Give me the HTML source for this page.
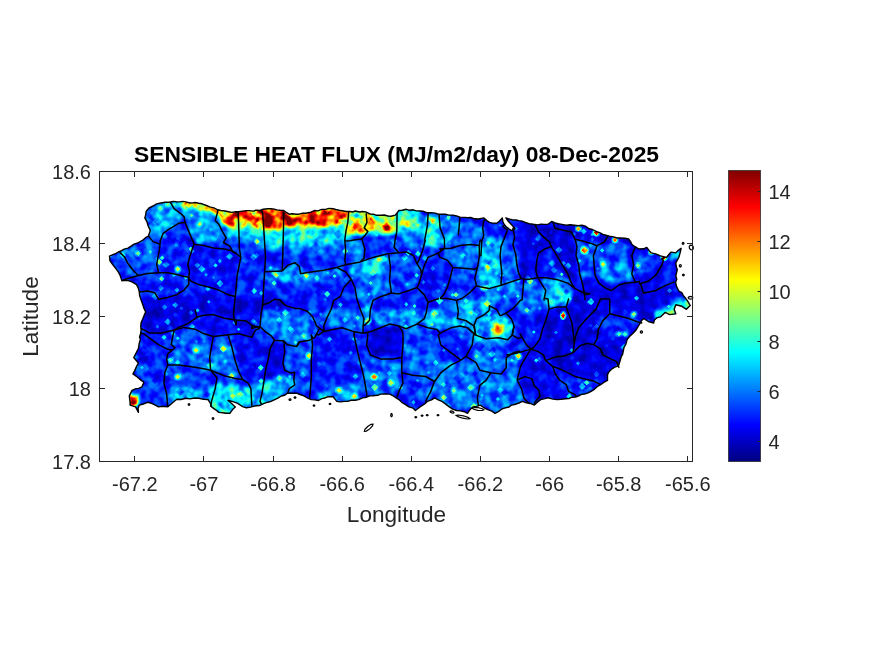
<!DOCTYPE html>
<html><head><meta charset="utf-8"><title>Sensible Heat Flux</title>
<style>html,body{margin:0;padding:0;background:#fff}body{width:875px;height:656px;overflow:hidden;font-family:"Liberation Sans",sans-serif}svg text{font-family:"Liberation Sans",sans-serif}</style>
</head><body>
<svg width="875" height="656" viewBox="0 0 875 656" style="display:block">
<defs>
<filter id="jet" x="0" y="0" width="875" height="656" filterUnits="userSpaceOnUse" color-interpolation-filters="sRGB">
<feGaussianBlur in="SourceGraphic" stdDeviation="0.7" result="b"/>
<feTurbulence type="fractalNoise" baseFrequency="0.11" numOctaves="2" seed="3" result="n"/>
<feColorMatrix in="n" type="matrix" values="2.2 0 0 0 -0.6000000000000001  2.2 0 0 0 -0.6000000000000001  2.2 0 0 0 -0.6000000000000001  0 0 0 0 1" result="ng"/>
<feComposite in="b" in2="ng" operator="arithmetic" k1="0.55" k2="0.725" k3="0.05" k4="-0.025" result="s"/>
<feComponentTransfer in="s">
<feFuncR type="table" tableValues="0.000 0.000 0.000 0.000 0.000 0.000 0.000 0.000 0.000 0.000 0.000 0.000 0.000 0.000 0.000 0.000 0.000 0.000 0.000 0.000 0.000 0.000 0.000 0.000 0.024 0.087 0.151 0.214 0.278 0.341 0.405 0.468 0.532 0.595 0.659 0.722 0.786 0.849 0.913 0.976 1.000 1.000 1.000 1.000 1.000 1.000 1.000 1.000 1.000 1.000 1.000 1.000 1.000 1.000 1.000 1.000 0.944 0.881 0.817 0.754 0.690 0.627 0.563 0.500"/>
<feFuncG type="table" tableValues="0.000 0.000 0.000 0.000 0.000 0.000 0.000 0.000 0.008 0.071 0.135 0.198 0.262 0.325 0.389 0.452 0.516 0.579 0.643 0.706 0.770 0.833 0.897 0.960 1.000 1.000 1.000 1.000 1.000 1.000 1.000 1.000 1.000 1.000 1.000 1.000 1.000 1.000 1.000 1.000 0.960 0.897 0.833 0.770 0.706 0.643 0.579 0.516 0.452 0.389 0.325 0.262 0.198 0.135 0.071 0.008 0.000 0.000 0.000 0.000 0.000 0.000 0.000 0.000"/>
<feFuncB type="table" tableValues="0.500 0.563 0.627 0.690 0.754 0.817 0.881 0.944 1.000 1.000 1.000 1.000 1.000 1.000 1.000 1.000 1.000 1.000 1.000 1.000 1.000 1.000 1.000 1.000 0.976 0.913 0.849 0.786 0.722 0.659 0.595 0.532 0.468 0.405 0.341 0.278 0.214 0.151 0.087 0.024 0.000 0.000 0.000 0.000 0.000 0.000 0.000 0.000 0.000 0.000 0.000 0.000 0.000 0.000 0.000 0.000 0.000 0.000 0.000 0.000 0.000 0.000 0.000 0.000"/>
<feFuncA type="linear" slope="0" intercept="1"/>
</feComponentTransfer>
</filter>
<filter id="bl" x="0" y="0" width="875" height="656" filterUnits="userSpaceOnUse" color-interpolation-filters="sRGB"><feGaussianBlur stdDeviation="2.0"/></filter>
<clipPath id="isl"><polygon points="109.5,256.2 112.4,254.9 116.0,253.3 118.3,252.0 121.5,250.7 124.2,249.1 128.0,248.1 131.0,246.2 134.1,244.1 137.7,243.0 142.0,240.7 145.5,237.7 148.4,236.1 150.3,230.6 147.9,225.2 147.1,222.2 144.8,217.9 145.7,214.9 146.1,211.5 149.0,208.0 153.0,206.0 156.1,204.2 158.7,203.4 162.2,202.7 165.1,202.2 169.4,202.3 173.1,201.4 176.3,201.7 179.5,201.9 182.6,201.4 185.9,201.9 189.8,203.0 192.8,202.9 195.2,202.5 198.7,203.2 202.1,203.8 206.4,205.5 209.7,206.9 213.9,207.9 217.7,209.8 220.7,210.5 223.6,210.7 228.6,211.7 231.6,212.4 236.0,211.8 238.3,211.7 242.6,211.1 246.5,210.6 248.9,210.6 253.7,211.1 255.9,210.2 260.0,210.5 263.1,209.2 267.8,208.8 271.0,208.7 274.3,209.1 276.9,209.9 280.0,210.3 283.8,210.5 285.9,212.2 289.2,214.2 292.1,213.7 296.5,214.3 298.8,214.2 302.0,213.3 305.7,213.3 310.8,212.1 314.8,210.5 317.9,210.9 321.7,209.4 326.2,209.2 329.1,208.4 333.1,208.7 335.7,209.5 339.1,210.3 342.5,210.7 345.9,211.5 349.9,211.5 352.6,212.0 355.3,211.0 359.7,212.0 362.4,211.5 365.7,211.9 370.0,214.0 373.3,214.2 376.5,215.3 381.2,215.3 384.2,215.0 388.0,216.0 391.0,216.2 395.3,215.1 398.9,210.5 402.2,210.2 406.2,209.3 409.3,210.2 413.2,209.8 416.1,210.9 420.0,211.0 423.0,211.2 427.4,212.8 431.2,212.6 435.3,213.1 438.3,214.2 441.2,214.2 445.5,214.3 448.8,215.1 453.0,215.1 456.6,216.0 460.0,217.1 464.6,217.4 467.8,217.8 470.6,217.5 474.8,218.8 478.7,219.0 484.0,217.9 487.1,220.8 489.5,222.4 492.4,223.1 496.8,223.3 499.5,220.9 502.3,217.9 502.9,221.8 504.1,224.3 505.9,226.5 509.3,229.1 511.4,230.6 515.0,228.8 513.1,226.4 510.9,224.0 508.0,220.9 505.9,217.9 509.7,219.1 512.2,219.7 516.0,220.0 518.7,220.6 522.5,221.3 526.1,222.6 529.0,223.6 533.3,224.3 537.7,224.9 541.0,224.1 544.7,224.4 548.0,224.3 551.6,221.5 555.2,222.9 558.3,223.7 561.9,224.4 566.3,225.2 570.2,224.8 574.4,225.2 578.2,225.8 582.0,225.2 585.3,226.1 589.0,228.7 592.5,229.5 596.6,231.6 600.4,233.0 602.9,234.4 605.9,235.2 609.4,236.1 612.6,236.6 617.1,238.0 620.3,238.0 625.0,238.3 628.6,238.9 630.4,241.4 632.0,244.5 635.0,246.7 639.0,249.0 643.4,248.8 646.8,247.5 649.4,250.9 651.4,252.9 655.6,253.9 660.5,255.9 666.6,257.5 668.8,254.5 671.2,252.1 675.8,252.9 678.0,250.5 681.1,248.3 680.1,252.9 678.8,257.5 675.8,262.8 676.3,266.8 677.3,269.7 675.8,275.8 676.8,279.3 675.6,282.2 676.5,286.4 678.8,291.0 681.7,292.6 683.4,295.6 686.0,298.8 688.0,301.7 690.2,305.5 686.4,309.3 681.9,306.3 675.8,304.7 674.2,309.3 675.8,313.9 669.7,314.6 665.1,312.4 662.5,315.1 660.5,316.9 656.7,317.9 654.4,320.0 653.6,323.0 648.3,321.5 643.7,318.5 641.4,320.8 639.2,324.6 636.1,330.0 633.3,332.9 629.5,336.6 627.1,339.6 626.0,343.8 624.0,347.5 623.3,350.8 622.6,354.3 621.2,356.7 620.1,360.8 618.5,365.8 614.8,367.2 611.2,369.5 608.6,372.2 607.5,375.0 607.5,380.4 604.2,382.2 600.2,385.0 596.8,386.9 594.4,389.3 591.1,391.4 588.1,392.9 584.5,394.1 582.1,394.2 578.3,396.0 575.7,397.0 571.3,397.3 568.9,398.6 565.5,398.7 561.1,399.3 557.1,399.6 553.1,399.1 548.0,397.8 545.0,398.6 540.7,399.6 537.7,401.9 534.3,405.1 529.7,403.2 526.4,402.8 522.4,401.4 518.9,403.0 514.6,404.5 511.4,405.1 509.1,407.0 505.4,407.9 502.3,408.7 498.4,411.6 495.0,413.3 491.8,411.2 487.6,409.6 483.3,407.3 480.3,405.1 476.7,406.4 473.0,406.9 470.2,409.4 467.5,413.3 464.3,411.7 460.7,410.9 456.6,410.5 452.7,409.1 449.3,406.9 445.1,403.6 441.9,401.4 438.3,399.9 434.6,397.8 431.5,399.9 427.3,401.4 424.3,404.2 420.0,407.0 415.4,410.5 413.0,408.1 408.9,406.9 406.3,405.1 402.3,402.7 398.9,399.6 396.1,397.8 393.3,396.0 389.8,394.1 385.0,393.9 380.7,394.1 377.6,395.3 372.9,395.8 369.7,395.9 366.7,397.2 362.5,397.9 358.7,399.6 355.1,400.2 351.6,400.1 347.8,401.4 344.8,401.4 340.3,401.9 336.8,401.4 333.1,396.8 327.6,396.8 324.7,398.0 321.8,398.6 318.5,400.5 314.9,399.9 311.2,399.6 308.2,398.4 303.9,395.9 299.9,394.5 296.6,393.2 291.4,393.1 287.4,393.2 284.8,395.3 281.3,396.0 278.3,397.8 274.2,399.8 271.0,401.4 268.0,402.2 264.1,403.4 260.0,405.5 256.1,405.7 253.4,406.4 249.5,407.4 246.3,407.8 242.6,406.6 239.6,404.7 237.1,403.2 232.2,401.4 228.0,400.5 230.5,402.5 232.7,404.6 235.3,406.9 232.6,409.6 229.8,413.3 225.7,413.2 222.7,412.7 218.8,412.4 215.7,409.8 211.5,406.9 210.2,402.8 207.9,399.5 203.7,399.4 198.7,398.3 195.0,398.0 189.9,398.9 185.9,398.3 180.9,399.5 176.8,399.3 174.3,401.3 170.3,404.7 167.6,406.9 162.7,406.3 158.5,406.9 155.3,405.2 151.6,403.3 147.5,402.3 143.3,404.0 139.3,405.1 138.1,408.3 138.4,412.4 135.6,406.9 130.2,405.1 130.0,401.1 129.3,395.9 132.0,390.4 136.0,388.6 138.7,388.4 142.0,386.8 143.9,382.2 141.2,380.4 137.9,377.5 135.1,375.4 132.9,374.0 134.8,370.4 136.7,366.1 138.4,363.0 135.6,359.8 133.8,357.5 136.6,352.0 138.5,348.2 139.3,342.9 140.4,339.1 139.5,337.2 140.6,333.7 141.1,330.1 140.8,326.4 141.1,322.8 142.7,319.1 144.3,314.9 145.7,312.0 143.9,308.3 142.8,304.7 141.1,300.1 139.7,295.9 139.3,291.9 138.3,288.1 136.6,284.6 132.4,282.2 129.2,280.9 125.6,280.2 121.9,280.9 120.1,275.4 118.4,272.2 115.5,268.1 113.1,265.0 110.0,260.8"/></clipPath>
<linearGradient id="cbg" x1="0" y1="0" x2="0" y2="1"><stop offset="0.0000" stop-color="rgb(128,0,0)"/><stop offset="0.0312" stop-color="rgb(159,0,0)"/><stop offset="0.0625" stop-color="rgb(191,0,0)"/><stop offset="0.0938" stop-color="rgb(223,0,0)"/><stop offset="0.1250" stop-color="rgb(255,0,0)"/><stop offset="0.1562" stop-color="rgb(255,32,0)"/><stop offset="0.1875" stop-color="rgb(255,64,0)"/><stop offset="0.2188" stop-color="rgb(255,96,0)"/><stop offset="0.2500" stop-color="rgb(255,128,0)"/><stop offset="0.2812" stop-color="rgb(255,159,0)"/><stop offset="0.3125" stop-color="rgb(255,191,0)"/><stop offset="0.3438" stop-color="rgb(255,223,0)"/><stop offset="0.3750" stop-color="rgb(255,255,0)"/><stop offset="0.4062" stop-color="rgb(223,255,32)"/><stop offset="0.4375" stop-color="rgb(191,255,64)"/><stop offset="0.4688" stop-color="rgb(159,255,96)"/><stop offset="0.5000" stop-color="rgb(128,255,128)"/><stop offset="0.5312" stop-color="rgb(96,255,159)"/><stop offset="0.5625" stop-color="rgb(64,255,191)"/><stop offset="0.5938" stop-color="rgb(32,255,223)"/><stop offset="0.6250" stop-color="rgb(0,255,255)"/><stop offset="0.6562" stop-color="rgb(0,223,255)"/><stop offset="0.6875" stop-color="rgb(0,191,255)"/><stop offset="0.7188" stop-color="rgb(0,159,255)"/><stop offset="0.7500" stop-color="rgb(0,128,255)"/><stop offset="0.7812" stop-color="rgb(0,96,255)"/><stop offset="0.8125" stop-color="rgb(0,64,255)"/><stop offset="0.8438" stop-color="rgb(0,32,255)"/><stop offset="0.8750" stop-color="rgb(0,0,255)"/><stop offset="0.9062" stop-color="rgb(0,0,223)"/><stop offset="0.9375" stop-color="rgb(0,0,191)"/><stop offset="0.9688" stop-color="rgb(0,0,159)"/><stop offset="1.0000" stop-color="rgb(0,0,128)"/></linearGradient>
</defs>
<rect width="875" height="656" fill="#fff"/>
<g clip-path="url(#isl)"><g filter="url(#jet)">
<rect x="0" y="0" width="875" height="656" fill="rgb(39,39,39)"/>
<g filter="url(#bl)">
<rect x="0" y="0" width="875" height="656" fill="rgb(39,39,39)"/>
<polygon points="520.0,215.0 700.0,215.0 700.0,410.0 560.0,410.0 540.0,330.0 520.0,300.0" fill="rgb(24,24,24)"/>
<polygon points="136.6,297.4 260.0,297.4 260.0,315.0 142.1,315.0" fill="rgb(24,24,24)"/>
<polygon points="191.4,248.0 235.3,249.9 235.3,290.1 191.4,282.8" fill="rgb(33,33,33)"/>
<polygon points="111.0,253.5 149.4,238.9 158.5,244.4 156.7,271.8 136.6,275.5 121.9,275.5" fill="rgb(53,53,53)"/>
<polygon points="143.9,209.6 173.1,201.4 182.3,216.9 180.5,222.4 160.3,237.1 149.4,235.2 143.9,218.8" fill="rgb(75,75,75)"/>
<polygon points="182.3,206.0 218.9,213.3 226.2,238.9 195.1,244.4 184.1,218.8" fill="rgb(72,72,72)"/>
<polygon points="173.1,200.5 218.9,207.8 218.9,214.2 184.1,206.9" fill="rgb(160,160,160)"/>
<polygon points="218.9,209.6 260.0,208.7 260.0,222.4 244.5,226.1 224.3,222.4" fill="rgb(215,215,215)"/>
<polygon points="224.3,222.4 244.5,226.1 260.0,222.4 260.0,242.5 228.0,242.5" fill="rgb(79,79,79)"/>
<polygon points="260.0,208.7 283.8,209.6 283.8,229.7 271.0,228.8 260.0,222.4" fill="rgb(241,241,241)"/>
<polygon points="283.8,212.4 345.9,208.7 345.9,224.3 324.0,226.1 305.7,222.4 285.6,229.7" fill="rgb(193,193,193)"/>
<polygon points="345.9,209.6 395.3,213.3 395.3,231.6 369.7,234.3 347.8,235.2" fill="rgb(134,134,134)"/>
<polygon points="399.0,209.6 420.0,209.6 420.0,227.9 399.0,231.6" fill="rgb(101,101,101)"/>
<polygon points="283.8,228.8 305.7,222.4 324.0,226.1 345.9,224.3 347.8,235.2 345.9,242.5 283.8,242.5" fill="rgb(96,96,96)"/>
<polygon points="260.0,222.4 271.0,228.8 283.8,229.7 283.8,249.9 260.0,249.9" fill="rgb(75,75,75)"/>
<polygon points="283.8,242.5 345.9,242.5 345.9,255.3 283.8,255.3" fill="rgb(57,57,57)"/>
<polygon points="265.5,268.1 296.6,264.5 303.9,273.6 340.5,268.1 340.5,280.9 287.4,282.8 265.5,280.9" fill="rgb(70,70,70)"/>
<polygon points="347.8,240.7 362.4,240.7 364.2,259.0 347.8,262.7" fill="rgb(64,64,64)"/>
<polygon points="345.9,264.5 388.0,255.3 391.7,271.8 369.7,280.9 351.4,275.5" fill="rgb(83,83,83)"/>
<polygon points="369.7,234.3 395.3,231.6 395.3,251.7 367.9,255.3" fill="rgb(48,48,48)"/>
<polygon points="399.0,231.6 420.0,227.9 420.0,249.9 399.0,251.7" fill="rgb(61,61,61)"/>
<polygon points="391.7,257.2 420.0,257.2 420.0,286.4 395.3,293.7" fill="rgb(50,50,50)"/>
<polygon points="260.0,297.4 287.4,301.1 305.7,315.0 260.0,315.0" fill="rgb(22,22,22)"/>
<polygon points="358.7,282.8 388.0,271.8 391.7,293.7 373.4,297.4 369.7,315.0 356.9,315.0" fill="rgb(61,61,61)"/>
<polygon points="260.0,249.9 283.8,249.9 281.9,268.1 260.0,268.1" fill="rgb(35,35,35)"/>
<polygon points="420.0,211.5 427.3,215.1 423.7,248.0 420.0,248.0" fill="rgb(61,61,61)"/>
<polygon points="427.3,215.1 440.1,216.9 443.8,246.2 423.7,248.0 425.5,231.6" fill="rgb(101,101,101)"/>
<polygon points="440.1,216.9 458.4,218.8 458.4,244.4 443.8,248.0" fill="rgb(68,68,68)"/>
<polygon points="458.4,222.4 489.5,222.4 482.2,237.1 480.3,248.0 459.3,244.4" fill="rgb(57,57,57)"/>
<polygon points="440.1,248.0 480.3,246.2 478.5,268.1 452.9,268.1 443.8,257.2" fill="rgb(61,61,61)"/>
<polygon points="425.5,257.2 443.8,257.2 451.1,268.1 447.4,293.7 425.5,299.2 420.0,282.8 420.0,268.1" fill="rgb(35,35,35)"/>
<polygon points="480.3,237.1 502.3,237.1 500.5,284.6 480.3,286.4 476.7,268.1" fill="rgb(81,81,81)"/>
<polygon points="502.3,249.9 516.9,249.9 520.6,279.1 502.3,286.4" fill="rgb(61,61,61)"/>
<polygon points="537.0,251.7 551.7,249.9 566.3,275.5 537.0,277.3" fill="rgb(35,35,35)"/>
<polygon points="551.7,242.5 580.0,246.2 580.0,282.8 566.3,275.5" fill="rgb(22,22,22)"/>
<polygon points="537.0,277.3 571.8,280.9 566.3,304.7 548.0,308.4 544.3,290.1" fill="rgb(66,66,66)"/>
<polygon points="480.3,286.4 522.4,280.9 526.1,293.7 518.7,304.7 500.5,304.7 489.5,308.4 484.0,291.9" fill="rgb(61,61,61)"/>
<polygon points="452.9,268.1 476.7,268.1 478.5,286.4 467.5,297.4 447.4,293.7" fill="rgb(46,46,46)"/>
<polygon points="526.1,280.9 537.0,277.3 548.0,308.4 522.4,315.0 518.7,304.7" fill="rgb(57,57,57)"/>
<polygon points="576.5,240.7 592.9,238.9 594.7,275.5 578.3,282.8" fill="rgb(57,57,57)"/>
<polygon points="594.7,240.7 629.5,242.5 633.1,275.5 611.2,284.6 596.6,280.9" fill="rgb(50,50,50)"/>
<polygon points="605.7,264.5 629.5,262.7 631.3,277.3 611.2,282.8" fill="rgb(68,68,68)"/>
<polygon points="633.1,251.7 662.4,257.2 651.4,273.6 633.1,277.3" fill="rgb(46,46,46)"/>
<polygon points="662.4,257.2 680.7,249.9 677.0,271.8 678.9,293.7 651.4,282.8 655.1,271.8" fill="rgb(35,35,35)"/>
<polygon points="669.7,249.9 682.5,247.1 680.7,257.2 671.5,260.8" fill="rgb(88,88,88)"/>
<polygon points="673.4,299.2 691.7,299.2 691.7,312.0 669.7,312.0" fill="rgb(105,105,105)"/>
<polygon points="142.1,310.0 195.1,310.0 187.8,324.6 173.1,330.1 149.4,333.8 141.1,326.5" fill="rgb(24,24,24)"/>
<polygon points="189.6,324.6 213.4,315.5 260.0,326.5 253.6,335.6 213.4,335.6" fill="rgb(31,31,31)"/>
<polygon points="173.1,330.1 211.5,337.4 209.7,370.3 167.7,364.9" fill="rgb(57,57,57)"/>
<polygon points="211.5,337.4 231.7,335.6 240.8,379.5 209.7,372.2" fill="rgb(61,61,61)"/>
<polygon points="235.3,335.6 260.0,337.4 260.0,379.5 244.5,379.5" fill="rgb(31,31,31)"/>
<polygon points="132.9,364.9 165.8,364.9 165.8,406.9 131.1,405.1" fill="rgb(44,44,44)"/>
<polygon points="165.8,366.7 209.7,370.3 217.0,377.7 213.4,383.1 167.7,383.1" fill="rgb(50,50,50)"/>
<polygon points="167.7,386.8 213.4,386.8 213.4,401.4 167.7,408.7" fill="rgb(72,72,72)"/>
<polygon points="213.4,383.1 249.9,386.8 251.8,405.1 231.7,416.1 213.4,414.2 209.7,401.4" fill="rgb(92,92,92)"/>
<polygon points="251.8,383.1 260.0,383.1 260.0,406.9 251.8,406.9" fill="rgb(83,83,83)"/>
<polygon points="128.3,394.1 139.9,395.6 136.2,406.0 128.3,406.0" fill="rgb(232,232,232)"/>
<polygon points="260.0,310.0 314.9,310.0 318.5,326.5 311.2,341.1 287.4,344.7 271.0,339.3 260.0,328.3" fill="rgb(61,61,61)"/>
<polygon points="267.3,342.9 283.8,341.1 283.8,370.3 267.3,383.1 263.7,364.9" fill="rgb(24,24,24)"/>
<polygon points="260.0,383.1 283.8,375.8 294.7,379.5 294.7,386.8 287.4,395.9 260.0,406.9" fill="rgb(83,83,83)"/>
<polygon points="283.8,344.7 313.0,342.9 311.2,392.3 296.6,390.5 294.7,370.3 283.8,370.3" fill="rgb(50,50,50)"/>
<polygon points="320.3,328.3 347.8,328.3 347.8,346.6 320.3,346.6" fill="rgb(31,31,31)"/>
<polygon points="324.0,310.0 369.7,310.0 369.7,328.3 342.3,328.3 324.0,324.6" fill="rgb(61,61,61)"/>
<polygon points="369.7,326.5 400.8,326.5 400.8,357.5 369.7,357.5" fill="rgb(22,22,22)"/>
<polygon points="362.4,357.5 400.8,359.4 400.8,392.3 364.2,395.9" fill="rgb(57,57,57)"/>
<polygon points="402.6,328.3 420.0,326.5 420.0,372.2 402.6,372.2" fill="rgb(57,57,57)"/>
<polygon points="402.6,374.0 420.0,375.8 420.0,408.7 406.3,403.3" fill="rgb(46,46,46)"/>
<polygon points="373.4,310.0 420.0,310.0 420.0,324.6 400.8,326.5 373.4,326.5" fill="rgb(66,66,66)"/>
<polygon points="314.9,394.1 362.4,383.1 362.4,399.6 336.8,403.3 320.3,401.4" fill="rgb(72,72,72)"/>
<polygon points="420.0,310.0 456.6,310.0 458.4,321.0 438.3,331.9 420.0,324.6" fill="rgb(72,72,72)"/>
<polygon points="440.1,330.1 469.4,324.6 473.0,346.6 465.7,357.5 452.9,363.0 438.3,346.6" fill="rgb(35,35,35)"/>
<polygon points="420.0,328.3 438.3,333.8 438.3,346.6 452.9,363.0 438.3,375.8 420.0,375.8" fill="rgb(50,50,50)"/>
<polygon points="474.9,317.3 500.5,315.5 513.3,322.8 511.4,335.6 500.5,341.1 480.3,337.4" fill="rgb(96,96,96)"/>
<polygon points="473.0,341.1 505.9,341.1 505.9,370.3 478.5,370.3" fill="rgb(61,61,61)"/>
<polygon points="434.6,363.0 467.5,357.5 478.5,370.3 489.5,372.2 478.5,383.1 478.5,405.1 452.9,408.7 431.0,395.9" fill="rgb(61,61,61)"/>
<polygon points="478.5,383.1 489.5,372.2 505.9,374.0 505.9,353.9 518.7,352.1 529.7,346.6 518.7,379.5 526.1,401.4 496.8,414.2 478.5,405.1" fill="rgb(61,61,61)"/>
<polygon points="548.0,310.0 580.0,310.0 580.0,346.6 551.7,357.5 533.4,348.4 544.3,328.3" fill="rgb(22,22,22)"/>
<polygon points="518.7,352.1 533.4,348.4 551.7,359.4 566.3,379.5 580.0,383.1 580.0,395.9 540.7,395.9 526.1,401.4 518.7,379.5" fill="rgb(29,29,29)"/>
<polygon points="551.7,359.4 580.0,346.6 580.0,383.1 566.3,379.5" fill="rgb(22,22,22)"/>
<polygon points="420.0,375.8 434.6,364.9 431.0,395.9 420.0,406.9" fill="rgb(57,57,57)"/>
<polygon points="492.2,324.6 505.0,321.0 507.8,328.3 498.6,335.6 492.2,332.9" fill="rgb(138,138,138)"/>
<polygon points="596.6,303.7 633.1,311.0 640.5,323.8 624.0,342.1 602.1,345.7 596.6,321.9" fill="rgb(39,39,39)"/>
<polygon points="655.1,311.0 691.7,300.0 690.7,308.2 673.4,315.5 655.1,319.2" fill="rgb(105,105,105)"/>
<polygon points="560.0,376.8 607.5,376.8 591.1,391.4 560.0,399.7" fill="rgb(46,46,46)"/>
<polygon points="220.0,207.0 347.0,207.0 347.0,226.0 335.0,225.0 322.0,228.0 300.0,225.0 285.0,230.0 262.0,229.0 243.0,226.0 232.0,227.0 221.0,223.0" fill="rgb(197,197,197)"/>
<polygon points="262.0,208.0 285.0,208.0 285.0,228.0 264.0,227.0" fill="rgb(248,248,248)"/>
<polygon points="237.0,209.0 258.0,209.0 258.0,222.0 240.0,221.0" fill="rgb(237,237,237)"/>
<polygon points="300.0,209.0 345.0,209.0 345.0,217.0 300.0,218.0" fill="rgb(215,215,215)"/>
<polygon points="286.0,212.0 300.0,212.0 300.0,224.0 288.0,226.0" fill="rgb(219,219,219)"/>
<polygon points="347.0,208.0 398.0,211.0 398.0,233.0 347.0,234.0" fill="rgb(134,134,134)"/>
<polygon points="355.0,220.0 361.0,220.0 361.0,232.0 355.0,232.0" fill="rgb(206,206,206)"/>
<polygon points="369.0,222.0 379.0,221.0 380.0,228.0 370.0,229.0" fill="rgb(210,210,210)"/>
<polygon points="384.0,223.0 391.0,222.0 392.0,230.0 386.0,230.0" fill="rgb(210,210,210)"/>
<polygon points="400.0,222.0 411.0,222.0 411.0,226.0 400.0,226.0" fill="rgb(193,193,193)"/>
<polygon points="173.0,200.0 200.0,201.0 221.0,208.0 221.0,214.0 200.0,209.0 180.0,206.0" fill="rgb(182,182,182)"/>
<polygon points="538.0,278.0 568.0,279.0 573.0,293.0 569.0,303.0 556.0,308.0 545.0,306.0 542.0,290.0" fill="rgb(83,83,83)"/>
<polygon points="600.0,262.0 630.0,262.0 632.0,280.0 610.0,286.0 598.0,276.0" fill="rgb(66,66,66)"/>
<polygon points="264.0,228.0 346.0,228.0 346.0,243.0 300.0,246.0 264.0,244.0" fill="rgb(96,96,96)"/>
<polygon points="452.0,300.0 494.0,298.0 494.0,340.0 470.0,345.0 452.0,330.0" fill="rgb(75,75,75)"/>
<polygon points="495.0,329.0 500.0,325.5 505.5,322.0 505.5,325.0 501.0,330.0 496.0,331.5" fill="rgb(210,210,210)"/>
</g>
<ellipse cx="168.6" cy="205.1" rx="3.7" ry="3.7" fill="rgb(149,149,149)" fill-opacity="0.3"/>
<path d="M168.6 202.6L171.1 205.1L168.6 207.6L166.1 205.1z" fill="rgb(149,149,149)"/>
<ellipse cx="199.7" cy="224.3" rx="3.2" ry="3.2" fill="rgb(138,138,138)" fill-opacity="0.3"/>
<path d="M199.7 222.3L201.7 224.3L199.7 226.3L197.7 224.3z" fill="rgb(138,138,138)"/>
<ellipse cx="138.4" cy="253.5" rx="3.7" ry="3.7" fill="rgb(138,138,138)" fill-opacity="0.3"/>
<path d="M138.4 251.0L140.9 253.5L138.4 256.0L135.9 253.5z" fill="rgb(138,138,138)"/>
<ellipse cx="177.7" cy="269.1" rx="3.7" ry="3.7" fill="rgb(127,127,127)" fill-opacity="0.3"/>
<path d="M177.7 266.6L180.2 269.1L177.7 271.6L175.2 269.1z" fill="rgb(127,127,127)"/>
<ellipse cx="175.9" cy="245.3" rx="3.7" ry="3.7" fill="rgb(105,105,105)" fill-opacity="0.3"/>
<path d="M175.9 242.8L178.4 245.3L175.9 247.8L173.4 245.3z" fill="rgb(105,105,105)"/>
<ellipse cx="355.1" cy="227.0" rx="4.2" ry="4.2" fill="rgb(215,215,215)" fill-opacity="0.3"/>
<path d="M355.1 224.0L358.1 227.0L355.1 230.0L352.1 227.0z" fill="rgb(215,215,215)"/>
<ellipse cx="377.0" cy="224.3" rx="4.2" ry="4.2" fill="rgb(215,215,215)" fill-opacity="0.3"/>
<path d="M377.0 221.3L380.0 224.3L377.0 227.3L374.0 224.3z" fill="rgb(215,215,215)"/>
<ellipse cx="386.2" cy="226.1" rx="4.7" ry="4.7" fill="rgb(215,215,215)" fill-opacity="0.3"/>
<path d="M386.2 222.6L389.7 226.1L386.2 229.6L382.7 226.1z" fill="rgb(215,215,215)"/>
<ellipse cx="406.3" cy="224.3" rx="3.7" ry="3.7" fill="rgb(182,182,182)" fill-opacity="0.3"/>
<path d="M406.3 221.8L408.8 224.3L406.3 226.8L403.8 224.3z" fill="rgb(182,182,182)"/>
<ellipse cx="309.4" cy="237.1" rx="3.7" ry="3.7" fill="rgb(138,138,138)" fill-opacity="0.3"/>
<path d="M309.4 234.6L311.9 237.1L309.4 239.6L306.9 237.1z" fill="rgb(138,138,138)"/>
<ellipse cx="378.9" cy="259.0" rx="3.2" ry="3.2" fill="rgb(127,127,127)" fill-opacity="0.3"/>
<path d="M378.9 257.0L380.9 259.0L378.9 261.0L376.9 259.0z" fill="rgb(127,127,127)"/>
<ellipse cx="432.8" cy="220.6" rx="3.7" ry="3.7" fill="rgb(171,171,171)" fill-opacity="0.3"/>
<path d="M432.8 218.1L435.3 220.6L432.8 223.1L430.3 220.6z" fill="rgb(171,171,171)"/>
<ellipse cx="463.0" cy="255.3" rx="3.7" ry="3.7" fill="rgb(127,127,127)" fill-opacity="0.3"/>
<path d="M463.0 252.8L465.5 255.3L463.0 257.8L460.5 255.3z" fill="rgb(127,127,127)"/>
<ellipse cx="487.7" cy="268.1" rx="4.2" ry="4.2" fill="rgb(127,127,127)" fill-opacity="0.3"/>
<path d="M487.7 265.1L490.7 268.1L487.7 271.1L484.7 268.1z" fill="rgb(127,127,127)"/>
<ellipse cx="484.0" cy="288.3" rx="3.7" ry="3.7" fill="rgb(138,138,138)" fill-opacity="0.3"/>
<path d="M484.0 285.8L486.5 288.3L484.0 290.8L481.5 288.3z" fill="rgb(138,138,138)"/>
<ellipse cx="584.7" cy="250.2" rx="4.6" ry="4.6" fill="rgb(215,215,215)" fill-opacity="0.3"/>
<path d="M584.7 246.79999999999998L588.1 250.2L584.7 253.6L581.3000000000001 250.2z" fill="rgb(215,215,215)"/>
<ellipse cx="578.3" cy="228.8" rx="3.7" ry="3.7" fill="rgb(171,171,171)" fill-opacity="0.3"/>
<path d="M578.3 226.3L580.8 228.8L578.3 231.3L575.8 228.8z" fill="rgb(171,171,171)"/>
<ellipse cx="596.6" cy="232.5" rx="4.2" ry="4.2" fill="rgb(182,182,182)" fill-opacity="0.3"/>
<path d="M596.6 229.5L599.6 232.5L596.6 235.5L593.6 232.5z" fill="rgb(182,182,182)"/>
<ellipse cx="614.9" cy="239.8" rx="3.7" ry="3.7" fill="rgb(160,160,160)" fill-opacity="0.3"/>
<path d="M614.9 237.3L617.4 239.8L614.9 242.3L612.4 239.8z" fill="rgb(160,160,160)"/>
<ellipse cx="664.2" cy="256.8" rx="4.2" ry="4.2" fill="rgb(182,182,182)" fill-opacity="0.3"/>
<path d="M664.2 253.8L667.2 256.8L664.2 259.8L661.2 256.8z" fill="rgb(182,182,182)"/>
<ellipse cx="651.4" cy="252.1" rx="3.7" ry="3.7" fill="rgb(160,160,160)" fill-opacity="0.3"/>
<path d="M651.4 249.6L653.9 252.1L651.4 254.6L648.9 252.1z" fill="rgb(160,160,160)"/>
<ellipse cx="637.7" cy="265.4" rx="3.7" ry="3.7" fill="rgb(127,127,127)" fill-opacity="0.3"/>
<path d="M637.7 262.9L640.2 265.4L637.7 267.9L635.2 265.4z" fill="rgb(127,127,127)"/>
<ellipse cx="603.0" cy="264.5" rx="3.7" ry="3.7" fill="rgb(116,116,116)" fill-opacity="0.3"/>
<path d="M603.0 262.0L605.5 264.5L603.0 267.0L600.5 264.5z" fill="rgb(116,116,116)"/>
<ellipse cx="240.8" cy="394.1" rx="4.2" ry="4.2" fill="rgb(149,149,149)" fill-opacity="0.3"/>
<path d="M240.8 391.1L243.8 394.1L240.8 397.1L237.8 394.1z" fill="rgb(149,149,149)"/>
<ellipse cx="170.4" cy="359.7" rx="3.7" ry="3.7" fill="rgb(149,149,149)" fill-opacity="0.3"/>
<path d="M170.4 357.2L172.9 359.7L170.4 362.2L167.9 359.7z" fill="rgb(149,149,149)"/>
<ellipse cx="196.0" cy="350.6" rx="3.7" ry="3.7" fill="rgb(127,127,127)" fill-opacity="0.3"/>
<path d="M196.0 348.1L198.5 350.6L196.0 353.1L193.5 350.6z" fill="rgb(127,127,127)"/>
<ellipse cx="177.7" cy="376.7" rx="3.7" ry="3.7" fill="rgb(138,138,138)" fill-opacity="0.3"/>
<path d="M177.7 374.2L180.2 376.7L177.7 379.2L175.2 376.7z" fill="rgb(138,138,138)"/>
<ellipse cx="309.4" cy="355.7" rx="4.2" ry="4.2" fill="rgb(160,160,160)" fill-opacity="0.3"/>
<path d="M309.4 352.7L312.4 355.7L309.4 358.7L306.4 355.7z" fill="rgb(160,160,160)"/>
<ellipse cx="367.9" cy="321.0" rx="4.2" ry="4.2" fill="rgb(160,160,160)" fill-opacity="0.3"/>
<path d="M367.9 318.0L370.9 321.0L367.9 324.0L364.9 321.0z" fill="rgb(160,160,160)"/>
<ellipse cx="374.3" cy="376.7" rx="4.2" ry="4.2" fill="rgb(149,149,149)" fill-opacity="0.3"/>
<path d="M374.3 373.7L377.3 376.7L374.3 379.7L371.3 376.7z" fill="rgb(149,149,149)"/>
<ellipse cx="390.7" cy="383.1" rx="4.2" ry="4.2" fill="rgb(149,149,149)" fill-opacity="0.3"/>
<path d="M390.7 380.1L393.7 383.1L390.7 386.1L387.7 383.1z" fill="rgb(149,149,149)"/>
<ellipse cx="338.6" cy="390.5" rx="3.7" ry="3.7" fill="rgb(149,149,149)" fill-opacity="0.3"/>
<path d="M338.6 388.0L341.1 390.5L338.6 393.0L336.1 390.5z" fill="rgb(149,149,149)"/>
<ellipse cx="354.2" cy="395.9" rx="3.7" ry="3.7" fill="rgb(149,149,149)" fill-opacity="0.3"/>
<path d="M354.2 393.4L356.7 395.9L354.2 398.4L351.7 395.9z" fill="rgb(149,149,149)"/>
<ellipse cx="303.9" cy="335.6" rx="3.7" ry="3.7" fill="rgb(127,127,127)" fill-opacity="0.3"/>
<path d="M303.9 333.1L306.4 335.6L303.9 338.1L301.4 335.6z" fill="rgb(127,127,127)"/>
<ellipse cx="563.2" cy="315.3" rx="3.4000000000000004" ry="4.8" fill="rgb(232,232,232)" fill-opacity="0.3"/>
<path d="M563.2 311.7L565.4000000000001 315.3L563.2 318.90000000000003L561.0 315.3z" fill="rgb(232,232,232)"/>
<ellipse cx="434.6" cy="313.7" rx="4.2" ry="4.2" fill="rgb(149,149,149)" fill-opacity="0.3"/>
<path d="M434.6 310.7L437.6 313.7L434.6 316.7L431.6 313.7z" fill="rgb(149,149,149)"/>
<ellipse cx="518.7" cy="355.7" rx="4.2" ry="4.2" fill="rgb(138,138,138)" fill-opacity="0.3"/>
<path d="M518.7 352.7L521.7 355.7L518.7 358.7L515.7 355.7z" fill="rgb(138,138,138)"/>
<ellipse cx="453.8" cy="390.5" rx="3.7" ry="3.7" fill="rgb(127,127,127)" fill-opacity="0.3"/>
<path d="M453.8 388.0L456.3 390.5L453.8 393.0L451.3 390.5z" fill="rgb(127,127,127)"/>
<ellipse cx="618.9" cy="333.8" rx="3.7" ry="3.7" fill="rgb(116,116,116)" fill-opacity="0.3"/>
<path d="M618.9 331.3L621.4 333.8L618.9 336.3L616.4 333.8z" fill="rgb(116,116,116)"/>
<ellipse cx="624.9" cy="334.4" rx="3.7" ry="3.7" fill="rgb(116,116,116)" fill-opacity="0.3"/>
<path d="M624.9 331.9L627.4 334.4L624.9 336.9L622.4 334.4z" fill="rgb(116,116,116)"/>
<ellipse cx="634.1" cy="314.3" rx="3.7" ry="3.7" fill="rgb(127,127,127)" fill-opacity="0.3"/>
<path d="M634.1 311.8L636.6 314.3L634.1 316.8L631.6 314.3z" fill="rgb(127,127,127)"/>
<ellipse cx="669.2" cy="311.9" rx="4.2" ry="4.2" fill="rgb(138,138,138)" fill-opacity="0.3"/>
<path d="M669.2 308.9L672.2 311.9L669.2 314.9L666.2 311.9z" fill="rgb(138,138,138)"/>
<ellipse cx="418" cy="225" rx="3.2" ry="2.7" fill="rgb(171,171,171)" fill-opacity="0.3"/>
<path d="M418 223.5L420 225L418 226.5L416 225z" fill="rgb(171,171,171)"/>
<path d="M297.1 230.6l1.8 1.8l-1.8 1.8l-1.8 -1.8zM321.6 208.9l3.6 3.6l-3.6 3.6l-3.6 -3.6zM361.2 213.2l1.8 1.8l-1.8 1.8l-1.8 -1.8zM168.2 320.6l2.2 2.2l-2.2 2.2l-2.2 -2.2zM414.7 385.2l3.0 3.0l-3.0 3.0l-3.0 -3.0zM148.2 217.5l2.6 2.6l-2.6 2.6l-2.6 -2.6zM338.2 300.5l3.0 3.0l-3.0 3.0l-3.0 -3.0zM683.0 292.9l1.8 1.8l-1.8 1.8l-1.8 -1.8zM478.5 401.8l3.6 3.6l-3.6 3.6l-3.6 -3.6zM540.1 245.1l3.6 3.6l-3.6 3.6l-3.6 -3.6zM199.1 316.1l1.8 1.8l-1.8 1.8l-1.8 -1.8zM591.0 386.6l2.2 2.2l-2.2 2.2l-2.2 -2.2zM623.8 210.0l2.2 2.2l-2.2 2.2l-2.2 -2.2zM191.5 386.8l3.0 3.0l-3.0 3.0l-3.0 -3.0zM156.9 382.3l1.8 1.8l-1.8 1.8l-1.8 -1.8zM277.3 305.3l2.2 2.2l-2.2 2.2l-2.2 -2.2zM149.3 356.7l2.6 2.6l-2.6 2.6l-2.6 -2.6zM252.9 365.1l1.8 1.8l-1.8 1.8l-1.8 -1.8zM590.6 323.4l2.2 2.2l-2.2 2.2l-2.2 -2.2zM493.0 211.2l3.0 3.0l-3.0 3.0l-3.0 -3.0zM230.5 401.1l2.2 2.2l-2.2 2.2l-2.2 -2.2zM284.3 227.7l2.6 2.6l-2.6 2.6l-2.6 -2.6zM641.4 398.7l3.6 3.6l-3.6 3.6l-3.6 -3.6zM253.1 221.2l2.2 2.2l-2.2 2.2l-2.2 -2.2zM657.8 352.2l3.0 3.0l-3.0 3.0l-3.0 -3.0zM598.1 408.8l3.0 3.0l-3.0 3.0l-3.0 -3.0zM125.7 285.3l3.0 3.0l-3.0 3.0l-3.0 -3.0zM379.0 370.9l1.8 1.8l-1.8 1.8l-1.8 -1.8zM632.8 270.3l2.6 2.6l-2.6 2.6l-2.6 -2.6zM462.6 267.9l2.6 2.6l-2.6 2.6l-2.6 -2.6zM406.9 282.0l2.2 2.2l-2.2 2.2l-2.2 -2.2zM245.5 256.9l3.6 3.6l-3.6 3.6l-3.6 -3.6zM339.3 409.8l3.6 3.6l-3.6 3.6l-3.6 -3.6zM177.6 237.2l3.6 3.6l-3.6 3.6l-3.6 -3.6zM325.4 383.2l3.0 3.0l-3.0 3.0l-3.0 -3.0zM169.8 324.6l3.6 3.6l-3.6 3.6l-3.6 -3.6zM126.4 303.6l3.0 3.0l-3.0 3.0l-3.0 -3.0zM317.4 275.5l3.0 3.0l-3.0 3.0l-3.0 -3.0zM318.4 361.4l3.0 3.0l-3.0 3.0l-3.0 -3.0zM459.5 308.3l3.0 3.0l-3.0 3.0l-3.0 -3.0zM583.0 234.9l2.6 2.6l-2.6 2.6l-2.6 -2.6zM210.4 411.7l2.6 2.6l-2.6 2.6l-2.6 -2.6zM482.9 405.3l2.2 2.2l-2.2 2.2l-2.2 -2.2zM471.6 214.5l2.2 2.2l-2.2 2.2l-2.2 -2.2zM362.9 363.6l2.6 2.6l-2.6 2.6l-2.6 -2.6zM207.5 198.1l2.2 2.2l-2.2 2.2l-2.2 -2.2zM273.7 244.0l2.2 2.2l-2.2 2.2l-2.2 -2.2zM572.2 354.7l3.0 3.0l-3.0 3.0l-3.0 -3.0zM482.7 295.0l2.6 2.6l-2.6 2.6l-2.6 -2.6zM541.4 296.0l2.2 2.2l-2.2 2.2l-2.2 -2.2zM636.8 348.4l2.2 2.2l-2.2 2.2l-2.2 -2.2zM213.4 275.7l1.8 1.8l-1.8 1.8l-1.8 -1.8zM301.2 265.6l2.6 2.6l-2.6 2.6l-2.6 -2.6zM167.2 237.2l1.8 1.8l-1.8 1.8l-1.8 -1.8zM354.3 265.5l3.0 3.0l-3.0 3.0l-3.0 -3.0zM641.5 209.5l1.8 1.8l-1.8 1.8l-1.8 -1.8zM143.4 405.8l3.6 3.6l-3.6 3.6l-3.6 -3.6zM225.1 359.1l2.2 2.2l-2.2 2.2l-2.2 -2.2zM251.8 395.4l3.0 3.0l-3.0 3.0l-3.0 -3.0zM325.1 297.8l1.8 1.8l-1.8 1.8l-1.8 -1.8zM556.1 373.8l2.2 2.2l-2.2 2.2l-2.2 -2.2zM305.9 410.8l3.0 3.0l-3.0 3.0l-3.0 -3.0zM128.3 276.5l3.0 3.0l-3.0 3.0l-3.0 -3.0zM208.5 399.9l2.6 2.6l-2.6 2.6l-2.6 -2.6zM631.4 209.8l2.6 2.6l-2.6 2.6l-2.6 -2.6zM366.2 305.6l3.6 3.6l-3.6 3.6l-3.6 -3.6zM113.9 345.2l3.6 3.6l-3.6 3.6l-3.6 -3.6zM278.3 220.2l3.0 3.0l-3.0 3.0l-3.0 -3.0zM417.8 313.7l1.8 1.8l-1.8 1.8l-1.8 -1.8zM238.6 237.4l1.8 1.8l-1.8 1.8l-1.8 -1.8zM413.4 349.3l1.8 1.8l-1.8 1.8l-1.8 -1.8zM395.0 259.0l2.2 2.2l-2.2 2.2l-2.2 -2.2zM200.6 211.8l2.6 2.6l-2.6 2.6l-2.6 -2.6zM322.1 213.5l2.6 2.6l-2.6 2.6l-2.6 -2.6zM443.5 286.6l1.8 1.8l-1.8 1.8l-1.8 -1.8zM175.1 311.8l3.0 3.0l-3.0 3.0l-3.0 -3.0zM359.5 360.5l2.2 2.2l-2.2 2.2l-2.2 -2.2zM690.9 330.1l2.2 2.2l-2.2 2.2l-2.2 -2.2zM674.1 333.5l3.6 3.6l-3.6 3.6l-3.6 -3.6zM228.6 210.4l2.6 2.6l-2.6 2.6l-2.6 -2.6zM381.7 275.8l2.2 2.2l-2.2 2.2l-2.2 -2.2zM393.2 365.9l2.6 2.6l-2.6 2.6l-2.6 -2.6zM187.6 395.1l2.6 2.6l-2.6 2.6l-2.6 -2.6zM605.3 343.1l3.0 3.0l-3.0 3.0l-3.0 -3.0zM425.9 405.9l2.2 2.2l-2.2 2.2l-2.2 -2.2zM187.9 365.1l1.8 1.8l-1.8 1.8l-1.8 -1.8zM600.3 405.0l3.0 3.0l-3.0 3.0l-3.0 -3.0zM580.6 412.1l2.2 2.2l-2.2 2.2l-2.2 -2.2zM427.1 360.5l2.6 2.6l-2.6 2.6l-2.6 -2.6zM612.6 337.1l2.2 2.2l-2.2 2.2l-2.2 -2.2zM527.9 198.5l2.6 2.6l-2.6 2.6l-2.6 -2.6zM481.7 396.2l2.2 2.2l-2.2 2.2l-2.2 -2.2zM199.5 201.8l2.2 2.2l-2.2 2.2l-2.2 -2.2zM637.7 278.5l2.2 2.2l-2.2 2.2l-2.2 -2.2zM109.5 244.5l3.6 3.6l-3.6 3.6l-3.6 -3.6zM518.9 200.7l2.6 2.6l-2.6 2.6l-2.6 -2.6z" fill="#fff" fill-opacity="0.08"/>
<path d="M590.9 223.1l3.5 3.5l-3.5 3.5l-3.5 -3.5zM664.6 342.7l5.8 5.8l-5.8 5.8l-5.8 -5.8zM639.0 271.1l2.9 2.9l-2.9 2.9l-2.9 -2.9zM378.5 356.9l2.9 2.9l-2.9 2.9l-2.9 -2.9zM688.0 200.2l5.8 5.8l-5.8 5.8l-5.8 -5.8zM415.5 395.9l4.8 4.8l-4.8 4.8l-4.8 -4.8zM506.5 309.3l4.8 4.8l-4.8 4.8l-4.8 -4.8zM512.6 291.5l5.8 5.8l-5.8 5.8l-5.8 -5.8zM516.3 384.3l4.2 4.2l-4.2 4.2l-4.2 -4.2zM518.6 276.9l5.8 5.8l-5.8 5.8l-5.8 -5.8zM173.9 394.0l3.5 3.5l-3.5 3.5l-3.5 -3.5zM517.0 216.4l2.9 2.9l-2.9 2.9l-2.9 -2.9zM471.1 205.8l3.5 3.5l-3.5 3.5l-3.5 -3.5zM260.9 234.8l4.2 4.2l-4.2 4.2l-4.2 -4.2zM688.8 205.1l2.9 2.9l-2.9 2.9l-2.9 -2.9zM344.3 271.8l2.9 2.9l-2.9 2.9l-2.9 -2.9zM475.7 212.4l5.8 5.8l-5.8 5.8l-5.8 -5.8zM528.9 302.1l4.2 4.2l-4.2 4.2l-4.2 -4.2zM133.6 373.8l5.8 5.8l-5.8 5.8l-5.8 -5.8zM639.4 356.1l5.8 5.8l-5.8 5.8l-5.8 -5.8zM262.1 295.4l2.9 2.9l-2.9 2.9l-2.9 -2.9zM301.8 335.9l4.2 4.2l-4.2 4.2l-4.2 -4.2zM115.3 208.9l4.2 4.2l-4.2 4.2l-4.2 -4.2zM379.4 297.4l2.9 2.9l-2.9 2.9l-2.9 -2.9zM598.7 196.2l4.2 4.2l-4.2 4.2l-4.2 -4.2zM255.9 209.2l4.8 4.8l-4.8 4.8l-4.8 -4.8zM167.4 375.3l4.2 4.2l-4.2 4.2l-4.2 -4.2zM484.4 258.7l2.9 2.9l-2.9 2.9l-2.9 -2.9zM332.6 334.0l4.8 4.8l-4.8 4.8l-4.8 -4.8zM670.1 328.9l5.8 5.8l-5.8 5.8l-5.8 -5.8zM631.5 301.4l2.9 2.9l-2.9 2.9l-2.9 -2.9zM646.4 208.8l2.9 2.9l-2.9 2.9l-2.9 -2.9zM153.7 212.6l4.8 4.8l-4.8 4.8l-4.8 -4.8zM588.1 290.1l2.9 2.9l-2.9 2.9l-2.9 -2.9zM214.8 368.4l4.2 4.2l-4.2 4.2l-4.2 -4.2zM623.9 408.2l4.2 4.2l-4.2 4.2l-4.2 -4.2zM351.4 329.8l3.5 3.5l-3.5 3.5l-3.5 -3.5zM598.9 393.7l2.9 2.9l-2.9 2.9l-2.9 -2.9zM323.3 226.9l3.5 3.5l-3.5 3.5l-3.5 -3.5zM572.8 339.2l3.5 3.5l-3.5 3.5l-3.5 -3.5zM648.5 218.6l4.8 4.8l-4.8 4.8l-4.8 -4.8zM332.0 222.9l3.5 3.5l-3.5 3.5l-3.5 -3.5zM131.7 223.8l4.2 4.2l-4.2 4.2l-4.2 -4.2zM139.7 303.5l4.8 4.8l-4.8 4.8l-4.8 -4.8zM123.1 208.5l5.8 5.8l-5.8 5.8l-5.8 -5.8zM538.9 275.1l4.8 4.8l-4.8 4.8l-4.8 -4.8zM452.0 238.1l5.8 5.8l-5.8 5.8l-5.8 -5.8zM688.5 350.9l4.8 4.8l-4.8 4.8l-4.8 -4.8zM517.2 203.1l3.5 3.5l-3.5 3.5l-3.5 -3.5zM224.4 399.5l5.8 5.8l-5.8 5.8l-5.8 -5.8zM355.5 200.3l4.2 4.2l-4.2 4.2l-4.2 -4.2zM605.2 330.0l2.9 2.9l-2.9 2.9l-2.9 -2.9zM110.5 300.7l4.8 4.8l-4.8 4.8l-4.8 -4.8zM656.2 360.1l4.8 4.8l-4.8 4.8l-4.8 -4.8zM474.7 271.7l4.8 4.8l-4.8 4.8l-4.8 -4.8zM659.2 221.5l5.8 5.8l-5.8 5.8l-5.8 -5.8zM446.2 222.3l4.8 4.8l-4.8 4.8l-4.8 -4.8zM245.9 401.3l4.2 4.2l-4.2 4.2l-4.2 -4.2zM378.6 224.7l5.8 5.8l-5.8 5.8l-5.8 -5.8zM602.1 337.8l5.8 5.8l-5.8 5.8l-5.8 -5.8zM630.5 247.3l4.8 4.8l-4.8 4.8l-4.8 -4.8zM562.5 278.8l4.8 4.8l-4.8 4.8l-4.8 -4.8zM130.3 313.3l3.5 3.5l-3.5 3.5l-3.5 -3.5zM446.8 219.3l4.2 4.2l-4.2 4.2l-4.2 -4.2zM264.2 276.7l4.2 4.2l-4.2 4.2l-4.2 -4.2zM565.9 226.0l4.2 4.2l-4.2 4.2l-4.2 -4.2zM310.3 228.0l4.8 4.8l-4.8 4.8l-4.8 -4.8zM598.9 275.8l4.8 4.8l-4.8 4.8l-4.8 -4.8zM506.6 396.1l4.2 4.2l-4.2 4.2l-4.2 -4.2zM617.8 270.6l3.5 3.5l-3.5 3.5l-3.5 -3.5zM566.0 202.9l5.8 5.8l-5.8 5.8l-5.8 -5.8zM468.2 329.0l5.8 5.8l-5.8 5.8l-5.8 -5.8zM232.1 338.6l4.8 4.8l-4.8 4.8l-4.8 -4.8zM641.8 336.8l4.2 4.2l-4.2 4.2l-4.2 -4.2zM567.3 316.7l4.2 4.2l-4.2 4.2l-4.2 -4.2zM474.1 288.9l2.9 2.9l-2.9 2.9l-2.9 -2.9zM684.2 381.1l3.5 3.5l-3.5 3.5l-3.5 -3.5zM646.9 275.1l3.5 3.5l-3.5 3.5l-3.5 -3.5zM192.6 367.3l4.2 4.2l-4.2 4.2l-4.2 -4.2zM328.0 341.5l5.8 5.8l-5.8 5.8l-5.8 -5.8zM503.8 296.5l3.5 3.5l-3.5 3.5l-3.5 -3.5zM319.9 316.6l4.8 4.8l-4.8 4.8l-4.8 -4.8zM612.0 334.7l2.9 2.9l-2.9 2.9l-2.9 -2.9zM214.7 378.5l4.2 4.2l-4.2 4.2l-4.2 -4.2zM260.2 218.7l4.8 4.8l-4.8 4.8l-4.8 -4.8zM600.5 308.6l3.5 3.5l-3.5 3.5l-3.5 -3.5zM563.0 380.9l5.8 5.8l-5.8 5.8l-5.8 -5.8zM204.0 372.8l4.8 4.8l-4.8 4.8l-4.8 -4.8zM667.4 397.4l3.5 3.5l-3.5 3.5l-3.5 -3.5zM561.5 398.6l2.9 2.9l-2.9 2.9l-2.9 -2.9zM537.8 355.0l4.2 4.2l-4.2 4.2l-4.2 -4.2zM409.9 375.2l4.2 4.2l-4.2 4.2l-4.2 -4.2zM190.0 237.8l5.8 5.8l-5.8 5.8l-5.8 -5.8zM349.2 217.4l4.8 4.8l-4.8 4.8l-4.8 -4.8zM667.9 239.1l4.8 4.8l-4.8 4.8l-4.8 -4.8zM326.7 280.4l5.8 5.8l-5.8 5.8l-5.8 -5.8zM440.8 332.9l2.9 2.9l-2.9 2.9l-2.9 -2.9zM340.2 218.3l2.9 2.9l-2.9 2.9l-2.9 -2.9zM463.2 242.8l2.9 2.9l-2.9 2.9l-2.9 -2.9zM289.5 281.0l2.9 2.9l-2.9 2.9l-2.9 -2.9zM601.1 296.3l3.5 3.5l-3.5 3.5l-3.5 -3.5zM125.3 342.0l4.2 4.2l-4.2 4.2l-4.2 -4.2zM654.4 219.9l4.2 4.2l-4.2 4.2l-4.2 -4.2zM676.9 343.5l2.9 2.9l-2.9 2.9l-2.9 -2.9zM188.1 342.7l4.8 4.8l-4.8 4.8l-4.8 -4.8zM484.4 330.8l4.2 4.2l-4.2 4.2l-4.2 -4.2zM322.8 401.1l5.8 5.8l-5.8 5.8l-5.8 -5.8zM170.6 367.8l4.8 4.8l-4.8 4.8l-4.8 -4.8zM396.7 303.9l3.5 3.5l-3.5 3.5l-3.5 -3.5zM628.1 210.6l2.9 2.9l-2.9 2.9l-2.9 -2.9zM358.2 311.4l3.5 3.5l-3.5 3.5l-3.5 -3.5zM282.8 271.0l2.9 2.9l-2.9 2.9l-2.9 -2.9zM339.5 221.0l3.5 3.5l-3.5 3.5l-3.5 -3.5zM428.1 220.0l4.2 4.2l-4.2 4.2l-4.2 -4.2zM240.3 320.3l2.9 2.9l-2.9 2.9l-2.9 -2.9zM283.2 347.3l4.8 4.8l-4.8 4.8l-4.8 -4.8zM206.1 356.1l4.2 4.2l-4.2 4.2l-4.2 -4.2zM318.8 309.4l4.2 4.2l-4.2 4.2l-4.2 -4.2zM302.9 199.6l4.8 4.8l-4.8 4.8l-4.8 -4.8zM687.4 201.6l5.8 5.8l-5.8 5.8l-5.8 -5.8zM570.5 367.0l3.5 3.5l-3.5 3.5l-3.5 -3.5zM505.9 261.2l4.2 4.2l-4.2 4.2l-4.2 -4.2zM684.7 271.9l4.8 4.8l-4.8 4.8l-4.8 -4.8zM684.9 281.1l4.8 4.8l-4.8 4.8l-4.8 -4.8zM342.1 407.6l2.9 2.9l-2.9 2.9l-2.9 -2.9zM656.8 275.1l3.5 3.5l-3.5 3.5l-3.5 -3.5zM689.0 261.1l2.9 2.9l-2.9 2.9l-2.9 -2.9zM483.0 338.3l4.8 4.8l-4.8 4.8l-4.8 -4.8zM513.1 353.4l3.5 3.5l-3.5 3.5l-3.5 -3.5zM158.7 330.6l2.9 2.9l-2.9 2.9l-2.9 -2.9zM197.0 338.8l3.5 3.5l-3.5 3.5l-3.5 -3.5zM513.9 291.8l4.8 4.8l-4.8 4.8l-4.8 -4.8zM643.5 250.8l4.2 4.2l-4.2 4.2l-4.2 -4.2z" fill="#000" fill-opacity="0.14"/>
<path d="M445.0 283.1l2.2 2.2l-2.2 2.2l-2.2 -2.2zM277.1 229.2l1.8 1.8l-1.8 1.8l-1.8 -1.8zM561.9 297.1l3.0 3.0l-3.0 3.0l-3.0 -3.0zM155.1 293.0l3.6 3.6l-3.6 3.6l-3.6 -3.6zM506.7 279.6l2.2 2.2l-2.2 2.2l-2.2 -2.2zM196.4 339.8l1.8 1.8l-1.8 1.8l-1.8 -1.8zM466.4 212.9l2.2 2.2l-2.2 2.2l-2.2 -2.2zM679.4 383.0l2.6 2.6l-2.6 2.6l-2.6 -2.6zM155.0 219.0l3.0 3.0l-3.0 3.0l-3.0 -3.0zM639.3 366.0l2.2 2.2l-2.2 2.2l-2.2 -2.2zM590.5 242.8l2.6 2.6l-2.6 2.6l-2.6 -2.6zM554.0 266.5l3.6 3.6l-3.6 3.6l-3.6 -3.6zM617.7 363.3l3.6 3.6l-3.6 3.6l-3.6 -3.6zM404.5 319.0l1.8 1.8l-1.8 1.8l-1.8 -1.8zM157.1 256.3l2.2 2.2l-2.2 2.2l-2.2 -2.2zM509.6 408.6l2.6 2.6l-2.6 2.6l-2.6 -2.6zM457.7 347.1l1.8 1.8l-1.8 1.8l-1.8 -1.8zM250.8 405.0l2.6 2.6l-2.6 2.6l-2.6 -2.6zM108.6 279.0l3.0 3.0l-3.0 3.0l-3.0 -3.0zM555.9 330.4l2.2 2.2l-2.2 2.2l-2.2 -2.2zM136.9 354.5l3.0 3.0l-3.0 3.0l-3.0 -3.0zM432.6 266.0l2.6 2.6l-2.6 2.6l-2.6 -2.6zM626.2 358.2l3.0 3.0l-3.0 3.0l-3.0 -3.0zM181.5 306.0l2.2 2.2l-2.2 2.2l-2.2 -2.2zM270.7 265.8l2.2 2.2l-2.2 2.2l-2.2 -2.2zM140.3 238.7l3.0 3.0l-3.0 3.0l-3.0 -3.0zM539.7 306.3l2.2 2.2l-2.2 2.2l-2.2 -2.2zM552.1 259.8l3.6 3.6l-3.6 3.6l-3.6 -3.6zM535.9 412.3l2.2 2.2l-2.2 2.2l-2.2 -2.2zM110.2 360.7l1.8 1.8l-1.8 1.8l-1.8 -1.8zM164.3 304.2l3.0 3.0l-3.0 3.0l-3.0 -3.0zM256.4 253.0l3.0 3.0l-3.0 3.0l-3.0 -3.0zM489.5 411.3l1.8 1.8l-1.8 1.8l-1.8 -1.8zM346.9 276.3l3.6 3.6l-3.6 3.6l-3.6 -3.6zM533.2 242.0l1.8 1.8l-1.8 1.8l-1.8 -1.8zM377.2 233.1l1.8 1.8l-1.8 1.8l-1.8 -1.8zM538.6 234.3l2.6 2.6l-2.6 2.6l-2.6 -2.6zM291.7 327.6l3.0 3.0l-3.0 3.0l-3.0 -3.0zM481.9 380.6l3.6 3.6l-3.6 3.6l-3.6 -3.6zM592.2 237.1l2.2 2.2l-2.2 2.2l-2.2 -2.2zM596.5 371.3l3.0 3.0l-3.0 3.0l-3.0 -3.0zM221.1 408.1l3.0 3.0l-3.0 3.0l-3.0 -3.0zM351.9 276.5l1.8 1.8l-1.8 1.8l-1.8 -1.8zM133.7 311.3l3.0 3.0l-3.0 3.0l-3.0 -3.0zM142.1 365.7l1.8 1.8l-1.8 1.8l-1.8 -1.8zM173.3 331.5l2.2 2.2l-2.2 2.2l-2.2 -2.2zM621.8 359.5l3.0 3.0l-3.0 3.0l-3.0 -3.0zM672.8 323.8l3.6 3.6l-3.6 3.6l-3.6 -3.6zM358.0 315.0l2.2 2.2l-2.2 2.2l-2.2 -2.2zM404.5 253.9l3.6 3.6l-3.6 3.6l-3.6 -3.6zM677.3 351.9l3.6 3.6l-3.6 3.6l-3.6 -3.6zM204.1 339.2l2.2 2.2l-2.2 2.2l-2.2 -2.2zM411.2 218.1l3.6 3.6l-3.6 3.6l-3.6 -3.6zM688.6 403.6l3.0 3.0l-3.0 3.0l-3.0 -3.0zM650.8 212.6l2.2 2.2l-2.2 2.2l-2.2 -2.2zM551.8 336.7l3.0 3.0l-3.0 3.0l-3.0 -3.0zM500.0 223.4l1.8 1.8l-1.8 1.8l-1.8 -1.8zM473.2 270.2l2.6 2.6l-2.6 2.6l-2.6 -2.6zM428.5 214.8l3.0 3.0l-3.0 3.0l-3.0 -3.0zM383.8 255.6l3.6 3.6l-3.6 3.6l-3.6 -3.6zM322.7 320.6l3.0 3.0l-3.0 3.0l-3.0 -3.0zM593.5 326.6l2.6 2.6l-2.6 2.6l-2.6 -2.6zM354.7 324.3l1.8 1.8l-1.8 1.8l-1.8 -1.8zM624.9 309.2l3.0 3.0l-3.0 3.0l-3.0 -3.0zM309.4 309.9l1.8 1.8l-1.8 1.8l-1.8 -1.8zM686.4 383.2l3.0 3.0l-3.0 3.0l-3.0 -3.0zM247.3 229.0l1.8 1.8l-1.8 1.8l-1.8 -1.8zM588.7 300.1l2.6 2.6l-2.6 2.6l-2.6 -2.6zM537.9 235.8l3.0 3.0l-3.0 3.0l-3.0 -3.0zM364.4 229.1l3.0 3.0l-3.0 3.0l-3.0 -3.0zM122.8 320.2l2.6 2.6l-2.6 2.6l-2.6 -2.6zM131.7 285.3l2.6 2.6l-2.6 2.6l-2.6 -2.6zM210.4 227.3l2.2 2.2l-2.2 2.2l-2.2 -2.2zM172.3 223.9l2.2 2.2l-2.2 2.2l-2.2 -2.2zM339.0 399.8l2.6 2.6l-2.6 2.6l-2.6 -2.6zM584.0 380.4l1.8 1.8l-1.8 1.8l-1.8 -1.8zM320.8 312.3l1.8 1.8l-1.8 1.8l-1.8 -1.8zM157.3 324.7l2.2 2.2l-2.2 2.2l-2.2 -2.2zM625.0 393.3l3.6 3.6l-3.6 3.6l-3.6 -3.6zM539.4 356.8l3.0 3.0l-3.0 3.0l-3.0 -3.0zM447.6 216.3l2.6 2.6l-2.6 2.6l-2.6 -2.6zM476.6 309.1l3.6 3.6l-3.6 3.6l-3.6 -3.6zM210.3 361.7l3.6 3.6l-3.6 3.6l-3.6 -3.6zM475.2 381.2l3.6 3.6l-3.6 3.6l-3.6 -3.6zM448.3 403.3l3.0 3.0l-3.0 3.0l-3.0 -3.0zM495.9 271.2l2.2 2.2l-2.2 2.2l-2.2 -2.2zM596.4 370.9l2.2 2.2l-2.2 2.2l-2.2 -2.2zM424.9 255.1l3.0 3.0l-3.0 3.0l-3.0 -3.0zM641.0 356.0l1.8 1.8l-1.8 1.8l-1.8 -1.8zM430.6 333.1l2.2 2.2l-2.2 2.2l-2.2 -2.2zM405.1 343.3l2.2 2.2l-2.2 2.2l-2.2 -2.2zM393.9 237.1l3.6 3.6l-3.6 3.6l-3.6 -3.6zM515.7 226.5l2.2 2.2l-2.2 2.2l-2.2 -2.2zM302.8 371.7l3.6 3.6l-3.6 3.6l-3.6 -3.6zM160.4 205.6l3.0 3.0l-3.0 3.0l-3.0 -3.0zM438.0 287.9l2.6 2.6l-2.6 2.6l-2.6 -2.6zM428.5 370.8l1.8 1.8l-1.8 1.8l-1.8 -1.8zM145.1 410.5l2.6 2.6l-2.6 2.6l-2.6 -2.6zM500.3 387.0l3.0 3.0l-3.0 3.0l-3.0 -3.0zM255.2 320.4l2.6 2.6l-2.6 2.6l-2.6 -2.6zM317.0 275.2l2.6 2.6l-2.6 2.6l-2.6 -2.6zM166.3 371.4l2.6 2.6l-2.6 2.6l-2.6 -2.6zM135.0 363.4l3.0 3.0l-3.0 3.0l-3.0 -3.0zM449.8 241.5l1.8 1.8l-1.8 1.8l-1.8 -1.8zM417.5 378.7l1.8 1.8l-1.8 1.8l-1.8 -1.8zM414.0 310.8l2.6 2.6l-2.6 2.6l-2.6 -2.6zM296.0 274.8l3.0 3.0l-3.0 3.0l-3.0 -3.0zM551.1 230.0l2.2 2.2l-2.2 2.2l-2.2 -2.2zM471.7 309.5l3.0 3.0l-3.0 3.0l-3.0 -3.0z" fill="#fff" fill-opacity="0.12"/>
<path d="M437.6 328.3l4.8 4.8l-4.8 4.8l-4.8 -4.8zM354.3 404.0l2.9 2.9l-2.9 2.9l-2.9 -2.9zM143.4 345.1l5.8 5.8l-5.8 5.8l-5.8 -5.8zM183.5 248.4l4.8 4.8l-4.8 4.8l-4.8 -4.8zM586.5 381.6l4.2 4.2l-4.2 4.2l-4.2 -4.2zM158.2 217.8l4.2 4.2l-4.2 4.2l-4.2 -4.2zM193.6 313.9l2.9 2.9l-2.9 2.9l-2.9 -2.9zM315.7 242.1l5.8 5.8l-5.8 5.8l-5.8 -5.8zM479.7 328.3l3.5 3.5l-3.5 3.5l-3.5 -3.5zM369.2 397.3l4.2 4.2l-4.2 4.2l-4.2 -4.2zM389.9 406.1l5.8 5.8l-5.8 5.8l-5.8 -5.8zM361.4 333.8l2.9 2.9l-2.9 2.9l-2.9 -2.9zM465.2 323.3l4.8 4.8l-4.8 4.8l-4.8 -4.8zM143.6 354.3l4.8 4.8l-4.8 4.8l-4.8 -4.8zM565.8 389.3l3.5 3.5l-3.5 3.5l-3.5 -3.5zM356.4 212.7l2.9 2.9l-2.9 2.9l-2.9 -2.9zM491.4 312.6l4.8 4.8l-4.8 4.8l-4.8 -4.8zM157.3 375.1l5.8 5.8l-5.8 5.8l-5.8 -5.8zM265.1 196.6l4.2 4.2l-4.2 4.2l-4.2 -4.2zM434.2 329.2l5.8 5.8l-5.8 5.8l-5.8 -5.8zM396.5 277.5l4.8 4.8l-4.8 4.8l-4.8 -4.8zM512.2 341.1l4.2 4.2l-4.2 4.2l-4.2 -4.2zM152.7 304.1l4.8 4.8l-4.8 4.8l-4.8 -4.8zM338.1 229.4l4.8 4.8l-4.8 4.8l-4.8 -4.8zM656.9 239.2l2.9 2.9l-2.9 2.9l-2.9 -2.9zM318.7 287.9l4.2 4.2l-4.2 4.2l-4.2 -4.2zM566.5 289.1l2.9 2.9l-2.9 2.9l-2.9 -2.9zM429.4 293.2l4.2 4.2l-4.2 4.2l-4.2 -4.2zM182.3 286.6l4.8 4.8l-4.8 4.8l-4.8 -4.8zM108.1 278.4l5.8 5.8l-5.8 5.8l-5.8 -5.8zM108.8 221.3l5.8 5.8l-5.8 5.8l-5.8 -5.8zM427.4 201.5l4.8 4.8l-4.8 4.8l-4.8 -4.8zM261.1 349.9l4.2 4.2l-4.2 4.2l-4.2 -4.2zM170.6 349.0l4.8 4.8l-4.8 4.8l-4.8 -4.8zM458.1 336.6l3.5 3.5l-3.5 3.5l-3.5 -3.5zM349.8 199.8l4.2 4.2l-4.2 4.2l-4.2 -4.2zM284.1 377.1l2.9 2.9l-2.9 2.9l-2.9 -2.9zM132.0 318.0l2.9 2.9l-2.9 2.9l-2.9 -2.9zM176.8 323.1l5.8 5.8l-5.8 5.8l-5.8 -5.8zM379.7 290.3l5.8 5.8l-5.8 5.8l-5.8 -5.8zM464.5 250.1l4.2 4.2l-4.2 4.2l-4.2 -4.2zM129.5 235.6l3.5 3.5l-3.5 3.5l-3.5 -3.5zM504.9 389.0l3.5 3.5l-3.5 3.5l-3.5 -3.5zM175.2 309.9l4.2 4.2l-4.2 4.2l-4.2 -4.2zM281.1 306.8l4.2 4.2l-4.2 4.2l-4.2 -4.2zM186.7 397.8l3.5 3.5l-3.5 3.5l-3.5 -3.5zM672.8 206.3l5.8 5.8l-5.8 5.8l-5.8 -5.8zM191.1 237.1l5.8 5.8l-5.8 5.8l-5.8 -5.8zM180.0 387.5l4.2 4.2l-4.2 4.2l-4.2 -4.2zM479.3 340.3l5.8 5.8l-5.8 5.8l-5.8 -5.8zM207.1 391.0l3.5 3.5l-3.5 3.5l-3.5 -3.5zM383.7 311.2l2.9 2.9l-2.9 2.9l-2.9 -2.9zM666.1 246.1l4.2 4.2l-4.2 4.2l-4.2 -4.2zM515.1 355.5l2.9 2.9l-2.9 2.9l-2.9 -2.9zM226.6 204.4l2.9 2.9l-2.9 2.9l-2.9 -2.9zM526.0 275.0l4.2 4.2l-4.2 4.2l-4.2 -4.2zM311.5 266.7l3.5 3.5l-3.5 3.5l-3.5 -3.5zM480.6 219.5l3.5 3.5l-3.5 3.5l-3.5 -3.5zM127.8 281.0l4.8 4.8l-4.8 4.8l-4.8 -4.8zM540.7 390.4l4.8 4.8l-4.8 4.8l-4.8 -4.8zM410.7 338.6l3.5 3.5l-3.5 3.5l-3.5 -3.5zM341.4 198.1l4.8 4.8l-4.8 4.8l-4.8 -4.8zM295.1 298.5l5.8 5.8l-5.8 5.8l-5.8 -5.8zM491.9 242.2l2.9 2.9l-2.9 2.9l-2.9 -2.9zM464.0 345.0l2.9 2.9l-2.9 2.9l-2.9 -2.9zM463.5 335.7l5.8 5.8l-5.8 5.8l-5.8 -5.8zM398.7 309.4l2.9 2.9l-2.9 2.9l-2.9 -2.9zM475.7 285.1l4.8 4.8l-4.8 4.8l-4.8 -4.8zM218.5 237.8l3.5 3.5l-3.5 3.5l-3.5 -3.5zM258.2 318.5l2.9 2.9l-2.9 2.9l-2.9 -2.9zM596.9 204.4l5.8 5.8l-5.8 5.8l-5.8 -5.8zM140.6 228.3l2.9 2.9l-2.9 2.9l-2.9 -2.9zM627.0 225.2l4.8 4.8l-4.8 4.8l-4.8 -4.8zM599.9 330.3l4.8 4.8l-4.8 4.8l-4.8 -4.8zM458.8 372.5l5.8 5.8l-5.8 5.8l-5.8 -5.8zM410.8 270.6l4.2 4.2l-4.2 4.2l-4.2 -4.2zM673.7 211.2l4.2 4.2l-4.2 4.2l-4.2 -4.2zM597.7 348.1l5.8 5.8l-5.8 5.8l-5.8 -5.8zM128.1 333.8l4.2 4.2l-4.2 4.2l-4.2 -4.2zM474.9 370.5l2.9 2.9l-2.9 2.9l-2.9 -2.9zM179.1 199.4l3.5 3.5l-3.5 3.5l-3.5 -3.5zM237.4 305.4l4.8 4.8l-4.8 4.8l-4.8 -4.8zM617.7 325.8l4.8 4.8l-4.8 4.8l-4.8 -4.8zM422.5 408.9l5.8 5.8l-5.8 5.8l-5.8 -5.8zM335.5 271.1l5.8 5.8l-5.8 5.8l-5.8 -5.8zM491.1 259.2l4.2 4.2l-4.2 4.2l-4.2 -4.2zM466.0 370.5l2.9 2.9l-2.9 2.9l-2.9 -2.9zM253.6 203.7l5.8 5.8l-5.8 5.8l-5.8 -5.8zM402.8 244.1l4.8 4.8l-4.8 4.8l-4.8 -4.8zM492.9 346.8l3.5 3.5l-3.5 3.5l-3.5 -3.5zM441.0 349.9l4.2 4.2l-4.2 4.2l-4.2 -4.2zM311.8 399.4l4.8 4.8l-4.8 4.8l-4.8 -4.8zM503.4 228.5l4.8 4.8l-4.8 4.8l-4.8 -4.8zM680.4 318.3l2.9 2.9l-2.9 2.9l-2.9 -2.9zM189.0 201.1l4.8 4.8l-4.8 4.8l-4.8 -4.8zM167.7 350.4l4.2 4.2l-4.2 4.2l-4.2 -4.2zM530.2 194.8l5.8 5.8l-5.8 5.8l-5.8 -5.8zM325.5 197.5l5.8 5.8l-5.8 5.8l-5.8 -5.8zM216.2 315.0l4.2 4.2l-4.2 4.2l-4.2 -4.2zM662.1 198.8l4.2 4.2l-4.2 4.2l-4.2 -4.2zM617.5 360.7l5.8 5.8l-5.8 5.8l-5.8 -5.8zM235.5 282.4l3.5 3.5l-3.5 3.5l-3.5 -3.5zM583.1 299.8l2.9 2.9l-2.9 2.9l-2.9 -2.9zM143.1 302.1l5.8 5.8l-5.8 5.8l-5.8 -5.8zM551.4 334.0l4.2 4.2l-4.2 4.2l-4.2 -4.2zM231.8 207.7l3.5 3.5l-3.5 3.5l-3.5 -3.5zM145.7 218.9l4.8 4.8l-4.8 4.8l-4.8 -4.8zM606.3 405.5l3.5 3.5l-3.5 3.5l-3.5 -3.5zM222.7 204.5l5.8 5.8l-5.8 5.8l-5.8 -5.8zM374.0 319.4l4.8 4.8l-4.8 4.8l-4.8 -4.8zM150.0 367.9l3.5 3.5l-3.5 3.5l-3.5 -3.5zM441.3 412.0l2.9 2.9l-2.9 2.9l-2.9 -2.9zM667.7 258.3l4.2 4.2l-4.2 4.2l-4.2 -4.2zM327.4 204.8l4.2 4.2l-4.2 4.2l-4.2 -4.2z" fill="#000" fill-opacity="0.24"/>
<path d="M571.9 348.1l2.2 2.2l-2.2 2.2l-2.2 -2.2zM315.6 328.3l3.0 3.0l-3.0 3.0l-3.0 -3.0zM261.4 197.9l3.0 3.0l-3.0 3.0l-3.0 -3.0zM167.8 318.3l3.6 3.6l-3.6 3.6l-3.6 -3.6zM175.4 301.9l3.0 3.0l-3.0 3.0l-3.0 -3.0zM592.1 232.9l1.8 1.8l-1.8 1.8l-1.8 -1.8zM685.9 366.9l3.0 3.0l-3.0 3.0l-3.0 -3.0zM208.7 300.0l1.8 1.8l-1.8 1.8l-1.8 -1.8zM598.6 227.7l1.8 1.8l-1.8 1.8l-1.8 -1.8zM150.4 249.9l1.8 1.8l-1.8 1.8l-1.8 -1.8zM688.5 283.8l3.0 3.0l-3.0 3.0l-3.0 -3.0zM373.0 269.3l3.6 3.6l-3.6 3.6l-3.6 -3.6zM192.0 323.2l3.0 3.0l-3.0 3.0l-3.0 -3.0zM492.0 350.3l3.6 3.6l-3.6 3.6l-3.6 -3.6zM190.8 310.1l2.6 2.6l-2.6 2.6l-2.6 -2.6zM253.6 253.5l3.6 3.6l-3.6 3.6l-3.6 -3.6zM207.7 286.6l2.6 2.6l-2.6 2.6l-2.6 -2.6zM357.6 315.6l2.2 2.2l-2.2 2.2l-2.2 -2.2zM328.1 270.9l1.8 1.8l-1.8 1.8l-1.8 -1.8zM166.1 261.0l3.6 3.6l-3.6 3.6l-3.6 -3.6zM497.7 396.7l2.2 2.2l-2.2 2.2l-2.2 -2.2zM527.5 274.9l3.0 3.0l-3.0 3.0l-3.0 -3.0zM290.0 374.1l2.2 2.2l-2.2 2.2l-2.2 -2.2zM350.6 350.4l2.2 2.2l-2.2 2.2l-2.2 -2.2zM435.7 360.1l3.0 3.0l-3.0 3.0l-3.0 -3.0zM563.4 260.6l2.6 2.6l-2.6 2.6l-2.6 -2.6zM489.4 282.9l2.6 2.6l-2.6 2.6l-2.6 -2.6zM498.0 288.0l1.8 1.8l-1.8 1.8l-1.8 -1.8zM355.5 373.4l3.0 3.0l-3.0 3.0l-3.0 -3.0zM482.1 393.8l1.8 1.8l-1.8 1.8l-1.8 -1.8zM487.0 264.1l2.2 2.2l-2.2 2.2l-2.2 -2.2zM508.7 352.8l2.2 2.2l-2.2 2.2l-2.2 -2.2zM229.7 252.9l3.6 3.6l-3.6 3.6l-3.6 -3.6zM465.7 208.0l1.8 1.8l-1.8 1.8l-1.8 -1.8zM285.4 308.9l3.6 3.6l-3.6 3.6l-3.6 -3.6zM163.9 334.6l2.6 2.6l-2.6 2.6l-2.6 -2.6zM386.6 226.3l2.2 2.2l-2.2 2.2l-2.2 -2.2zM422.1 244.8l1.8 1.8l-1.8 1.8l-1.8 -1.8zM354.5 336.3l2.6 2.6l-2.6 2.6l-2.6 -2.6zM494.7 357.3l2.2 2.2l-2.2 2.2l-2.2 -2.2zM583.7 228.4l3.0 3.0l-3.0 3.0l-3.0 -3.0zM389.2 370.6l2.6 2.6l-2.6 2.6l-2.6 -2.6zM197.2 262.2l3.0 3.0l-3.0 3.0l-3.0 -3.0zM201.6 265.3l3.6 3.6l-3.6 3.6l-3.6 -3.6zM273.9 270.9l2.6 2.6l-2.6 2.6l-2.6 -2.6zM279.0 375.0l3.0 3.0l-3.0 3.0l-3.0 -3.0zM279.2 316.9l3.0 3.0l-3.0 3.0l-3.0 -3.0zM623.9 344.0l3.6 3.6l-3.6 3.6l-3.6 -3.6zM290.5 326.0l3.0 3.0l-3.0 3.0l-3.0 -3.0zM659.8 365.1l3.6 3.6l-3.6 3.6l-3.6 -3.6zM579.6 259.1l1.8 1.8l-1.8 1.8l-1.8 -1.8zM570.3 297.0l1.8 1.8l-1.8 1.8l-1.8 -1.8zM558.9 246.5l3.6 3.6l-3.6 3.6l-3.6 -3.6zM452.4 293.1l1.8 1.8l-1.8 1.8l-1.8 -1.8zM574.5 231.5l2.2 2.2l-2.2 2.2l-2.2 -2.2zM197.6 308.2l2.2 2.2l-2.2 2.2l-2.2 -2.2zM177.6 359.7l2.6 2.6l-2.6 2.6l-2.6 -2.6zM160.8 285.0l3.0 3.0l-3.0 3.0l-3.0 -3.0zM253.0 318.5l2.6 2.6l-2.6 2.6l-2.6 -2.6zM526.8 207.9l1.8 1.8l-1.8 1.8l-1.8 -1.8zM174.0 272.5l2.2 2.2l-2.2 2.2l-2.2 -2.2zM487.8 240.7l2.6 2.6l-2.6 2.6l-2.6 -2.6zM465.9 298.2l2.6 2.6l-2.6 2.6l-2.6 -2.6zM114.9 273.6l2.2 2.2l-2.2 2.2l-2.2 -2.2zM412.2 410.5l2.2 2.2l-2.2 2.2l-2.2 -2.2zM398.8 403.4l3.6 3.6l-3.6 3.6l-3.6 -3.6zM486.5 198.5l3.0 3.0l-3.0 3.0l-3.0 -3.0zM122.9 252.2l3.0 3.0l-3.0 3.0l-3.0 -3.0zM621.8 404.4l3.0 3.0l-3.0 3.0l-3.0 -3.0zM511.9 358.7l1.8 1.8l-1.8 1.8l-1.8 -1.8zM348.8 209.3l3.6 3.6l-3.6 3.6l-3.6 -3.6zM568.0 262.3l3.6 3.6l-3.6 3.6l-3.6 -3.6zM192.1 248.6l2.6 2.6l-2.6 2.6l-2.6 -2.6zM111.6 383.4l3.0 3.0l-3.0 3.0l-3.0 -3.0zM121.1 384.9l1.8 1.8l-1.8 1.8l-1.8 -1.8zM329.3 199.0l2.6 2.6l-2.6 2.6l-2.6 -2.6zM219.7 258.8l2.2 2.2l-2.2 2.2l-2.2 -2.2zM295.5 340.7l1.8 1.8l-1.8 1.8l-1.8 -1.8zM578.2 360.9l2.2 2.2l-2.2 2.2l-2.2 -2.2zM313.6 333.0l2.2 2.2l-2.2 2.2l-2.2 -2.2zM206.1 272.9l1.8 1.8l-1.8 1.8l-1.8 -1.8zM520.1 198.3l3.0 3.0l-3.0 3.0l-3.0 -3.0zM114.3 410.3l3.0 3.0l-3.0 3.0l-3.0 -3.0zM329.6 336.6l2.6 2.6l-2.6 2.6l-2.6 -2.6zM635.9 232.8l2.6 2.6l-2.6 2.6l-2.6 -2.6zM581.7 210.3l2.6 2.6l-2.6 2.6l-2.6 -2.6zM504.4 294.4l1.8 1.8l-1.8 1.8l-1.8 -1.8zM470.8 383.9l3.6 3.6l-3.6 3.6l-3.6 -3.6zM590.2 223.8l2.6 2.6l-2.6 2.6l-2.6 -2.6zM529.5 205.8l3.6 3.6l-3.6 3.6l-3.6 -3.6zM174.3 202.7l1.8 1.8l-1.8 1.8l-1.8 -1.8zM596.3 323.9l2.6 2.6l-2.6 2.6l-2.6 -2.6zM476.4 354.1l2.2 2.2l-2.2 2.2l-2.2 -2.2zM312.7 315.4l3.0 3.0l-3.0 3.0l-3.0 -3.0zM627.0 341.4l3.0 3.0l-3.0 3.0l-3.0 -3.0zM650.8 324.0l2.2 2.2l-2.2 2.2l-2.2 -2.2zM448.7 215.0l2.2 2.2l-2.2 2.2l-2.2 -2.2zM597.7 266.4l2.2 2.2l-2.2 2.2l-2.2 -2.2zM670.5 327.4l1.8 1.8l-1.8 1.8l-1.8 -1.8zM648.4 318.7l2.6 2.6l-2.6 2.6l-2.6 -2.6zM491.9 326.7l2.6 2.6l-2.6 2.6l-2.6 -2.6zM488.6 315.1l3.0 3.0l-3.0 3.0l-3.0 -3.0zM232.5 393.2l3.0 3.0l-3.0 3.0l-3.0 -3.0zM261.2 291.1l2.2 2.2l-2.2 2.2l-2.2 -2.2zM234.5 320.2l2.2 2.2l-2.2 2.2l-2.2 -2.2zM665.3 226.8l2.6 2.6l-2.6 2.6l-2.6 -2.6zM677.0 199.4l2.6 2.6l-2.6 2.6l-2.6 -2.6zM165.0 233.3l3.0 3.0l-3.0 3.0l-3.0 -3.0zM443.7 348.4l1.8 1.8l-1.8 1.8l-1.8 -1.8zM114.2 345.0l3.0 3.0l-3.0 3.0l-3.0 -3.0zM511.1 408.6l2.6 2.6l-2.6 2.6l-2.6 -2.6zM622.9 371.0l1.8 1.8l-1.8 1.8l-1.8 -1.8zM345.0 317.1l3.0 3.0l-3.0 3.0l-3.0 -3.0zM315.4 210.2l3.6 3.6l-3.6 3.6l-3.6 -3.6zM518.3 278.1l2.6 2.6l-2.6 2.6l-2.6 -2.6zM108.5 252.2l3.6 3.6l-3.6 3.6l-3.6 -3.6z" fill="#fff" fill-opacity="0.18"/>
<path d="M177.0 287.3l2.6 2.6l-2.6 2.6l-2.6 -2.6zM306.6 272.3l3.0 3.0l-3.0 3.0l-3.0 -3.0zM274.2 280.3l2.6 2.6l-2.6 2.6l-2.6 -2.6zM374.7 383.7l3.6 3.6l-3.6 3.6l-3.6 -3.6zM340.6 302.6l2.2 2.2l-2.2 2.2l-2.2 -2.2zM161.8 276.1l2.6 2.6l-2.6 2.6l-2.6 -2.6zM586.7 380.1l2.6 2.6l-2.6 2.6l-2.6 -2.6zM408.3 249.8l3.0 3.0l-3.0 3.0l-3.0 -3.0zM185.7 275.8l1.8 1.8l-1.8 1.8l-1.8 -1.8zM602.1 248.3l2.2 2.2l-2.2 2.2l-2.2 -2.2zM290.0 215.5l3.0 3.0l-3.0 3.0l-3.0 -3.0zM625.9 349.0l2.2 2.2l-2.2 2.2l-2.2 -2.2zM345.2 248.3l3.0 3.0l-3.0 3.0l-3.0 -3.0zM177.9 336.5l1.8 1.8l-1.8 1.8l-1.8 -1.8zM238.6 327.4l1.8 1.8l-1.8 1.8l-1.8 -1.8zM489.0 309.8l3.0 3.0l-3.0 3.0l-3.0 -3.0zM325.7 395.5l2.2 2.2l-2.2 2.2l-2.2 -2.2zM569.2 393.4l3.0 3.0l-3.0 3.0l-3.0 -3.0zM487.3 300.0l3.6 3.6l-3.6 3.6l-3.6 -3.6zM368.9 292.4l1.8 1.8l-1.8 1.8l-1.8 -1.8zM636.6 295.5l2.6 2.6l-2.6 2.6l-2.6 -2.6zM432.2 322.9l1.8 1.8l-1.8 1.8l-1.8 -1.8zM536.1 358.4l2.2 2.2l-2.2 2.2l-2.2 -2.2zM327.1 290.9l3.0 3.0l-3.0 3.0l-3.0 -3.0zM220.1 280.0l3.6 3.6l-3.6 3.6l-3.6 -3.6zM254.0 288.1l3.0 3.0l-3.0 3.0l-3.0 -3.0zM526.9 307.5l2.6 2.6l-2.6 2.6l-2.6 -2.6zM533.8 330.2l1.8 1.8l-1.8 1.8l-1.8 -1.8zM463.2 322.2l2.2 2.2l-2.2 2.2l-2.2 -2.2zM223.3 345.4l3.6 3.6l-3.6 3.6l-3.6 -3.6zM591.0 298.1l3.6 3.6l-3.6 3.6l-3.6 -3.6zM406.2 302.0l2.2 2.2l-2.2 2.2l-2.2 -2.2zM340.7 221.5l1.8 1.8l-1.8 1.8l-1.8 -1.8zM444.0 394.5l3.0 3.0l-3.0 3.0l-3.0 -3.0zM454.8 411.3l2.2 2.2l-2.2 2.2l-2.2 -2.2zM582.1 382.8l3.6 3.6l-3.6 3.6l-3.6 -3.6zM310.6 214.7l3.6 3.6l-3.6 3.6l-3.6 -3.6zM260.8 364.5l3.0 3.0l-3.0 3.0l-3.0 -3.0zM258.1 223.7l3.0 3.0l-3.0 3.0l-3.0 -3.0zM690.9 397.1l1.8 1.8l-1.8 1.8l-1.8 -1.8zM569.1 400.3l2.6 2.6l-2.6 2.6l-2.6 -2.6zM443.8 381.9l2.6 2.6l-2.6 2.6l-2.6 -2.6zM119.4 397.0l2.2 2.2l-2.2 2.2l-2.2 -2.2zM610.9 228.1l3.6 3.6l-3.6 3.6l-3.6 -3.6zM402.8 202.3l2.2 2.2l-2.2 2.2l-2.2 -2.2zM276.2 273.2l2.6 2.6l-2.6 2.6l-2.6 -2.6zM215.6 263.2l2.2 2.2l-2.2 2.2l-2.2 -2.2zM661.6 341.8l3.6 3.6l-3.6 3.6l-3.6 -3.6zM125.0 212.8l3.6 3.6l-3.6 3.6l-3.6 -3.6zM370.7 281.1l1.8 1.8l-1.8 1.8l-1.8 -1.8zM668.7 304.7l1.8 1.8l-1.8 1.8l-1.8 -1.8zM502.1 322.7l3.0 3.0l-3.0 3.0l-3.0 -3.0zM669.4 288.2l2.6 2.6l-2.6 2.6l-2.6 -2.6zM162.1 255.8l2.2 2.2l-2.2 2.2l-2.2 -2.2zM529.9 277.4l3.6 3.6l-3.6 3.6l-3.6 -3.6zM456.0 292.1l2.6 2.6l-2.6 2.6l-2.6 -2.6zM159.4 259.0l3.0 3.0l-3.0 3.0l-3.0 -3.0zM561.8 272.5l1.8 1.8l-1.8 1.8l-1.8 -1.8zM593.4 222.0l2.6 2.6l-2.6 2.6l-2.6 -2.6zM517.7 294.5l1.8 1.8l-1.8 1.8l-1.8 -1.8zM190.9 246.7l2.2 2.2l-2.2 2.2l-2.2 -2.2zM191.6 213.7l1.8 1.8l-1.8 1.8l-1.8 -1.8zM439.4 297.2l3.6 3.6l-3.6 3.6l-3.6 -3.6zM432.0 400.2l2.6 2.6l-2.6 2.6l-2.6 -2.6zM418.0 251.1l3.0 3.0l-3.0 3.0l-3.0 -3.0zM473.9 402.9l3.6 3.6l-3.6 3.6l-3.6 -3.6zM256.7 238.5l3.0 3.0l-3.0 3.0l-3.0 -3.0zM401.0 385.9l1.8 1.8l-1.8 1.8l-1.8 -1.8zM231.4 373.1l3.0 3.0l-3.0 3.0l-3.0 -3.0zM334.5 274.2l1.8 1.8l-1.8 1.8l-1.8 -1.8zM487.0 284.5l2.6 2.6l-2.6 2.6l-2.6 -2.6zM573.0 215.1l3.6 3.6l-3.6 3.6l-3.6 -3.6zM413.6 400.1l2.2 2.2l-2.2 2.2l-2.2 -2.2zM416.6 273.2l2.2 2.2l-2.2 2.2l-2.2 -2.2zM569.3 203.9l1.8 1.8l-1.8 1.8l-1.8 -1.8zM501.7 273.2l2.2 2.2l-2.2 2.2l-2.2 -2.2zM110.3 385.3l2.2 2.2l-2.2 2.2l-2.2 -2.2zM423.4 280.1l2.2 2.2l-2.2 2.2l-2.2 -2.2zM405.9 324.3l3.0 3.0l-3.0 3.0l-3.0 -3.0zM261.2 378.2l2.6 2.6l-2.6 2.6l-2.6 -2.6zM372.4 215.9l3.0 3.0l-3.0 3.0l-3.0 -3.0zM414.7 304.3l1.8 1.8l-1.8 1.8l-1.8 -1.8z" fill="#fff" fill-opacity="0.28"/>
</g></g>
<polygon points="109.5,256.2 112.4,254.9 116.0,253.3 118.3,252.0 121.5,250.7 124.2,249.1 128.0,248.1 131.0,246.2 134.1,244.1 137.7,243.0 142.0,240.7 145.5,237.7 148.4,236.1 150.3,230.6 147.9,225.2 147.1,222.2 144.8,217.9 145.7,214.9 146.1,211.5 149.0,208.0 153.0,206.0 156.1,204.2 158.7,203.4 162.2,202.7 165.1,202.2 169.4,202.3 173.1,201.4 176.3,201.7 179.5,201.9 182.6,201.4 185.9,201.9 189.8,203.0 192.8,202.9 195.2,202.5 198.7,203.2 202.1,203.8 206.4,205.5 209.7,206.9 213.9,207.9 217.7,209.8 220.7,210.5 223.6,210.7 228.6,211.7 231.6,212.4 236.0,211.8 238.3,211.7 242.6,211.1 246.5,210.6 248.9,210.6 253.7,211.1 255.9,210.2 260.0,210.5 263.1,209.2 267.8,208.8 271.0,208.7 274.3,209.1 276.9,209.9 280.0,210.3 283.8,210.5 285.9,212.2 289.2,214.2 292.1,213.7 296.5,214.3 298.8,214.2 302.0,213.3 305.7,213.3 310.8,212.1 314.8,210.5 317.9,210.9 321.7,209.4 326.2,209.2 329.1,208.4 333.1,208.7 335.7,209.5 339.1,210.3 342.5,210.7 345.9,211.5 349.9,211.5 352.6,212.0 355.3,211.0 359.7,212.0 362.4,211.5 365.7,211.9 370.0,214.0 373.3,214.2 376.5,215.3 381.2,215.3 384.2,215.0 388.0,216.0 391.0,216.2 395.3,215.1 398.9,210.5 402.2,210.2 406.2,209.3 409.3,210.2 413.2,209.8 416.1,210.9 420.0,211.0 423.0,211.2 427.4,212.8 431.2,212.6 435.3,213.1 438.3,214.2 441.2,214.2 445.5,214.3 448.8,215.1 453.0,215.1 456.6,216.0 460.0,217.1 464.6,217.4 467.8,217.8 470.6,217.5 474.8,218.8 478.7,219.0 484.0,217.9 487.1,220.8 489.5,222.4 492.4,223.1 496.8,223.3 499.5,220.9 502.3,217.9 502.9,221.8 504.1,224.3 505.9,226.5 509.3,229.1 511.4,230.6 515.0,228.8 513.1,226.4 510.9,224.0 508.0,220.9 505.9,217.9 509.7,219.1 512.2,219.7 516.0,220.0 518.7,220.6 522.5,221.3 526.1,222.6 529.0,223.6 533.3,224.3 537.7,224.9 541.0,224.1 544.7,224.4 548.0,224.3 551.6,221.5 555.2,222.9 558.3,223.7 561.9,224.4 566.3,225.2 570.2,224.8 574.4,225.2 578.2,225.8 582.0,225.2 585.3,226.1 589.0,228.7 592.5,229.5 596.6,231.6 600.4,233.0 602.9,234.4 605.9,235.2 609.4,236.1 612.6,236.6 617.1,238.0 620.3,238.0 625.0,238.3 628.6,238.9 630.4,241.4 632.0,244.5 635.0,246.7 639.0,249.0 643.4,248.8 646.8,247.5 649.4,250.9 651.4,252.9 655.6,253.9 660.5,255.9 666.6,257.5 668.8,254.5 671.2,252.1 675.8,252.9 678.0,250.5 681.1,248.3 680.1,252.9 678.8,257.5 675.8,262.8 676.3,266.8 677.3,269.7 675.8,275.8 676.8,279.3 675.6,282.2 676.5,286.4 678.8,291.0 681.7,292.6 683.4,295.6 686.0,298.8 688.0,301.7 690.2,305.5 686.4,309.3 681.9,306.3 675.8,304.7 674.2,309.3 675.8,313.9 669.7,314.6 665.1,312.4 662.5,315.1 660.5,316.9 656.7,317.9 654.4,320.0 653.6,323.0 648.3,321.5 643.7,318.5 641.4,320.8 639.2,324.6 636.1,330.0 633.3,332.9 629.5,336.6 627.1,339.6 626.0,343.8 624.0,347.5 623.3,350.8 622.6,354.3 621.2,356.7 620.1,360.8 618.5,365.8 614.8,367.2 611.2,369.5 608.6,372.2 607.5,375.0 607.5,380.4 604.2,382.2 600.2,385.0 596.8,386.9 594.4,389.3 591.1,391.4 588.1,392.9 584.5,394.1 582.1,394.2 578.3,396.0 575.7,397.0 571.3,397.3 568.9,398.6 565.5,398.7 561.1,399.3 557.1,399.6 553.1,399.1 548.0,397.8 545.0,398.6 540.7,399.6 537.7,401.9 534.3,405.1 529.7,403.2 526.4,402.8 522.4,401.4 518.9,403.0 514.6,404.5 511.4,405.1 509.1,407.0 505.4,407.9 502.3,408.7 498.4,411.6 495.0,413.3 491.8,411.2 487.6,409.6 483.3,407.3 480.3,405.1 476.7,406.4 473.0,406.9 470.2,409.4 467.5,413.3 464.3,411.7 460.7,410.9 456.6,410.5 452.7,409.1 449.3,406.9 445.1,403.6 441.9,401.4 438.3,399.9 434.6,397.8 431.5,399.9 427.3,401.4 424.3,404.2 420.0,407.0 415.4,410.5 413.0,408.1 408.9,406.9 406.3,405.1 402.3,402.7 398.9,399.6 396.1,397.8 393.3,396.0 389.8,394.1 385.0,393.9 380.7,394.1 377.6,395.3 372.9,395.8 369.7,395.9 366.7,397.2 362.5,397.9 358.7,399.6 355.1,400.2 351.6,400.1 347.8,401.4 344.8,401.4 340.3,401.9 336.8,401.4 333.1,396.8 327.6,396.8 324.7,398.0 321.8,398.6 318.5,400.5 314.9,399.9 311.2,399.6 308.2,398.4 303.9,395.9 299.9,394.5 296.6,393.2 291.4,393.1 287.4,393.2 284.8,395.3 281.3,396.0 278.3,397.8 274.2,399.8 271.0,401.4 268.0,402.2 264.1,403.4 260.0,405.5 256.1,405.7 253.4,406.4 249.5,407.4 246.3,407.8 242.6,406.6 239.6,404.7 237.1,403.2 232.2,401.4 228.0,400.5 230.5,402.5 232.7,404.6 235.3,406.9 232.6,409.6 229.8,413.3 225.7,413.2 222.7,412.7 218.8,412.4 215.7,409.8 211.5,406.9 210.2,402.8 207.9,399.5 203.7,399.4 198.7,398.3 195.0,398.0 189.9,398.9 185.9,398.3 180.9,399.5 176.8,399.3 174.3,401.3 170.3,404.7 167.6,406.9 162.7,406.3 158.5,406.9 155.3,405.2 151.6,403.3 147.5,402.3 143.3,404.0 139.3,405.1 138.1,408.3 138.4,412.4 135.6,406.9 130.2,405.1 130.0,401.1 129.3,395.9 132.0,390.4 136.0,388.6 138.7,388.4 142.0,386.8 143.9,382.2 141.2,380.4 137.9,377.5 135.1,375.4 132.9,374.0 134.8,370.4 136.7,366.1 138.4,363.0 135.6,359.8 133.8,357.5 136.6,352.0 138.5,348.2 139.3,342.9 140.4,339.1 139.5,337.2 140.6,333.7 141.1,330.1 140.8,326.4 141.1,322.8 142.7,319.1 144.3,314.9 145.7,312.0 143.9,308.3 142.8,304.7 141.1,300.1 139.7,295.9 139.3,291.9 138.3,288.1 136.6,284.6 132.4,282.2 129.2,280.9 125.6,280.2 121.9,280.9 120.1,275.4 118.4,272.2 115.5,268.1 113.1,265.0 110.0,260.8" fill="none" stroke="#000" stroke-width="1.4" stroke-linejoin="round"/>
<polyline points="170.4,202.3 174.1,208.7 180.5,213.3 184.1,216.9 185.0,222.4 189.6,233.4 194.2,244.4" fill="none" stroke="#000" stroke-width="1.5" stroke-linejoin="round"/>
<polyline points="185.0,222.4 178.6,223.3 169.5,228.8 163.1,233.4 160.3,240.7 159.4,249.9 157.6,259.0 156.7,264.5 158.5,272.7" fill="none" stroke="#000" stroke-width="1.5" stroke-linejoin="round"/>
<polyline points="148.5,236.1 153.0,241.6 160.3,244.4" fill="none" stroke="#000" stroke-width="1.5" stroke-linejoin="round"/>
<polyline points="119.6,251.4 120.1,252.6 124.7,257.2 127.4,262.7 132.9,270.0 138.4,275.5" fill="none" stroke="#000" stroke-width="1.5" stroke-linejoin="round"/>
<polyline points="122.9,280.0 138.4,275.5 147.5,273.6 158.5,272.7 167.7,272.7 176.8,274.5 184.1,276.4 188.7,277.3" fill="none" stroke="#000" stroke-width="1.5" stroke-linejoin="round"/>
<polyline points="194.2,244.4 192.3,248.9 189.6,257.2 187.8,264.5 189.6,271.8 188.7,277.3" fill="none" stroke="#000" stroke-width="1.5" stroke-linejoin="round"/>
<polyline points="194.2,244.4 202.4,245.3 213.4,248.0 224.3,248.9 231.7,250.8 236.2,253.5 240.8,257.2" fill="none" stroke="#000" stroke-width="1.5" stroke-linejoin="round"/>
<polyline points="188.7,277.3 190.5,280.9 198.7,284.6 209.7,287.3 218.9,290.1 228.0,294.7 235.3,296.5" fill="none" stroke="#000" stroke-width="1.5" stroke-linejoin="round"/>
<polyline points="238.1,212.4 238.6,222.4 239.0,235.2 239.3,248.0 240.8,257.2 239.0,266.3 237.1,275.5 236.2,286.4 235.3,296.5 234.4,304.7 233.5,315.0 234.4,320.3 236.2,325.0 236.7,320.1" fill="none" stroke="#000" stroke-width="1.5" stroke-linejoin="round"/>
<polyline points="218.0,209.9 217.0,214.2 215.2,220.6 218.9,224.3 222.5,231.6 226.2,238.0 223.4,242.5 229.8,246.2 232.6,251.7 236.2,253.5" fill="none" stroke="#000" stroke-width="1.5" stroke-linejoin="round"/>
<polyline points="139.3,291.9 147.5,291.0 154.9,292.8 158.5,299.2 167.7,297.4 176.8,294.7 184.1,290.1 188.7,284.6 188.7,277.3" fill="none" stroke="#000" stroke-width="1.5" stroke-linejoin="round"/>
<polyline points="261.4,209.9 262.7,213.3 263.7,227.9 264.6,242.5 265.5,257.2 264.6,271.8 263.7,286.4 262.7,304.7 260.9,315.7 260.0,326.7" fill="none" stroke="#000" stroke-width="1.5" stroke-linejoin="round"/>
<polyline points="283.8,211.5 283.4,231.6 282.9,249.9 282.3,270.9" fill="none" stroke="#000" stroke-width="1.5" stroke-linejoin="round"/>
<polyline points="264.6,271.8 282.3,270.9" fill="none" stroke="#000" stroke-width="1.5" stroke-linejoin="round"/>
<polyline points="282.3,270.9 287.4,265.4 294.7,262.7 299.3,266.3 300.6,273.7" fill="none" stroke="#000" stroke-width="1.5" stroke-linejoin="round"/>
<polyline points="348.7,211.5 347.8,222.4 345.9,231.6 344.8,240.0" fill="none" stroke="#000" stroke-width="1.5" stroke-linejoin="round"/>
<polyline points="344.9,241.1 349.6,240.7 355.1,239.8 361.5,238.9" fill="none" stroke="#000" stroke-width="1.5" stroke-linejoin="round"/>
<polyline points="366.1,213.3 367.0,222.4 364.2,227.9 367.9,231.6 365.1,235.2 361.5,238.9" fill="none" stroke="#000" stroke-width="1.5" stroke-linejoin="round"/>
<polyline points="397.1,213.3 396.8,231.6 395.1,240.0" fill="none" stroke="#000" stroke-width="1.5" stroke-linejoin="round"/>
<polyline points="262.7,304.7 269.1,302.9 274.6,299.2 280.1,300.1 285.6,305.6 294.7,308.4 300.0,308.6" fill="none" stroke="#000" stroke-width="1.5" stroke-linejoin="round"/>
<polyline points="428.2,213.3 427.3,226.1 424.6,240.7" fill="none" stroke="#000" stroke-width="1.5" stroke-linejoin="round"/>
<polyline points="439.2,214.2 439.2,216.0 440.1,227.9 443.8,237.1 444.5,240.0" fill="none" stroke="#000" stroke-width="1.5" stroke-linejoin="round"/>
<polyline points="460.0,217.1 459.3,224.3 458.4,235.2" fill="none" stroke="#000" stroke-width="1.5" stroke-linejoin="round"/>
<polyline points="663.5,260.0 661.5,259.0 663.3,258.1 663.7,256.7" fill="none" stroke="#000" stroke-width="1.5" stroke-linejoin="round"/>
<polyline points="196.9,317.3 195.1,310.0 196.9,317.3 202.4,315.5 213.4,314.6 224.3,318.2 236.2,320.1 246.3,321.0 251.8,325.5 260.0,327.4" fill="none" stroke="#000" stroke-width="1.5" stroke-linejoin="round"/>
<polyline points="196.9,317.3 187.8,323.7 178.6,327.4 174.1,330.1" fill="none" stroke="#000" stroke-width="1.5" stroke-linejoin="round"/>
<polyline points="141.1,328.3 149.4,332.9 162.2,332.9 174.1,330.1" fill="none" stroke="#000" stroke-width="1.5" stroke-linejoin="round"/>
<polyline points="174.1,330.1 172.2,339.3 171.3,344.7 175.0,347.5 172.2,350.2 167.7,353.9 166.7,359.4 167.7,364.9 164.9,372.2 164.0,383.1 166.7,394.1 167.7,406.9" fill="none" stroke="#000" stroke-width="1.5" stroke-linejoin="round"/>
<polyline points="140.6,333.3 143.9,333.8 151.2,339.3 158.5,344.7 167.7,349.3 172.2,350.2" fill="none" stroke="#000" stroke-width="1.5" stroke-linejoin="round"/>
<polyline points="174.1,330.1 184.1,327.4 195.1,329.2 204.2,333.8 213.4,336.5" fill="none" stroke="#000" stroke-width="1.5" stroke-linejoin="round"/>
<polyline points="213.4,336.5 228.0,334.7 239.0,333.8 251.8,337.4 255.4,330.1 260.0,328.3" fill="none" stroke="#000" stroke-width="1.5" stroke-linejoin="round"/>
<polyline points="213.4,336.5 211.5,346.6 209.7,357.5 210.6,370.3" fill="none" stroke="#000" stroke-width="1.5" stroke-linejoin="round"/>
<polyline points="167.7,364.9 178.6,364.9 191.4,366.7 202.4,368.5 210.6,370.3 217.0,377.7" fill="none" stroke="#000" stroke-width="1.5" stroke-linejoin="round"/>
<polyline points="228.0,334.7 231.7,346.6 235.3,361.2 239.0,372.2 242.6,379.5" fill="none" stroke="#000" stroke-width="1.5" stroke-linejoin="round"/>
<polyline points="210.6,370.3 224.3,375.8 235.3,378.6 242.6,379.5 248.1,383.1 250.9,388.6 251.8,405.1 252.2,406.7" fill="none" stroke="#000" stroke-width="1.5" stroke-linejoin="round"/>
<polyline points="217.0,377.7 215.2,388.6 211.5,401.4 210.6,406.9" fill="none" stroke="#000" stroke-width="1.5" stroke-linejoin="round"/>
<polyline points="252.4,325.7 251.8,328.3 260.0,326.5 265.5,331.9 271.0,335.6 274.6,340.2 283.8,341.1 287.4,344.7 296.6,346.6 299.3,342.0" fill="none" stroke="#000" stroke-width="1.5" stroke-linejoin="round"/>
<polyline points="274.6,340.2 270.1,348.4 268.2,359.4 265.5,370.3 263.7,383.1 261.8,394.1 260.0,401.4 261.6,404.7" fill="none" stroke="#000" stroke-width="1.5" stroke-linejoin="round"/>
<polyline points="283.8,341.1 284.7,352.1 282.9,363.0 284.7,370.3 291.1,373.1 294.7,372.2 293.8,379.5 294.7,385.0 289.3,388.6 287.4,394.1" fill="none" stroke="#000" stroke-width="1.5" stroke-linejoin="round"/>
<polyline points="639.3,281.5 639.7,283.8 648.9,281.0 656.2,274.6 661.7,265.5 663.5,260.0" fill="none" stroke="#000" stroke-width="1.5" stroke-linejoin="round"/>
<polyline points="640.6,283.5 643.4,292.9 654.3,291.1 665.3,285.6 674.5,281.9" fill="none" stroke="#000" stroke-width="1.5" stroke-linejoin="round"/>
<polyline points="300.0,273.8 311.0,272.0 323.8,270.2 336.6,267.4 345.7,264.7 360.3,261.9 373.1,257.4 387.8,253.7 398.7,252.8 406.1,251.9 413.4,255.5 417.0,263.8" fill="none" stroke="#000" stroke-width="1.5" stroke-linejoin="round"/>
<polyline points="344.8,240.0 345.7,251.0 344.8,260.1 345.7,264.7" fill="none" stroke="#000" stroke-width="1.5" stroke-linejoin="round"/>
<polyline points="361.5,238.9 362.2,240.0 364.9,249.1 364.0,258.3 360.3,261.9" fill="none" stroke="#000" stroke-width="1.5" stroke-linejoin="round"/>
<polyline points="395.1,240.0 394.2,247.3 398.7,252.8" fill="none" stroke="#000" stroke-width="1.5" stroke-linejoin="round"/>
<polyline points="425.3,240.0 422.5,251.0 418.9,260.1 417.0,263.8" fill="none" stroke="#000" stroke-width="1.5" stroke-linejoin="round"/>
<polyline points="444.5,240.0 444.5,248.2 439.0,252.8 428.0,257.4 424.3,265.6 421.6,274.7 418.9,283.9 417.0,287.5" fill="none" stroke="#000" stroke-width="1.5" stroke-linejoin="round"/>
<polyline points="388.7,254.6 390.5,267.4 389.6,280.2 391.4,293.0 398.7,293.9 409.7,290.3 417.0,287.5" fill="none" stroke="#000" stroke-width="1.5" stroke-linejoin="round"/>
<polyline points="417.0,263.8 420.7,269.3 421.6,274.7" fill="none" stroke="#000" stroke-width="1.5" stroke-linejoin="round"/>
<polyline points="417.0,287.5 424.3,294.9 428.0,302.2 426.2,313.1 424.3,318.6 417.0,324.1" fill="none" stroke="#000" stroke-width="1.5" stroke-linejoin="round"/>
<polyline points="428.0,302.2 439.0,298.5" fill="none" stroke="#000" stroke-width="1.5" stroke-linejoin="round"/>
<polyline points="336.6,267.4 345.7,272.0 351.2,279.3 354.9,287.5 356.7,298.5 360.3,309.5 364.0,318.6 363.1,325.9 363.1,333.3" fill="none" stroke="#000" stroke-width="1.5" stroke-linejoin="round"/>
<polyline points="351.2,279.3 343.9,287.5 340.2,296.7 333.8,300.3 331.1,309.5 327.4,316.8 323.8,325.9 323.8,331.4" fill="none" stroke="#000" stroke-width="1.5" stroke-linejoin="round"/>
<polyline points="300.0,308.6 307.3,311.3 312.8,316.8 316.5,325.9 323.8,331.4" fill="none" stroke="#000" stroke-width="1.5" stroke-linejoin="round"/>
<polyline points="323.8,331.4 332.9,329.6 342.1,327.8 353.0,331.4 363.1,333.3" fill="none" stroke="#000" stroke-width="1.5" stroke-linejoin="round"/>
<polyline points="391.4,293.0 380.5,296.7 373.1,300.3 370.4,309.5 369.5,320.5 364.0,325.9" fill="none" stroke="#000" stroke-width="1.5" stroke-linejoin="round"/>
<polyline points="363.1,333.3 371.3,331.4 380.5,327.8 389.6,324.1 398.7,325.9 406.1,328.7 417.0,324.1" fill="none" stroke="#000" stroke-width="1.5" stroke-linejoin="round"/>
<polyline points="417.0,324.1 428.0,327.8 437.1,329.6 440.0,333.3" fill="none" stroke="#000" stroke-width="1.5" stroke-linejoin="round"/>
<polyline points="398.7,325.9 402.4,331.4 403.0,335.0" fill="none" stroke="#000" stroke-width="1.5" stroke-linejoin="round"/>
<polyline points="323.8,331.4 318.3,335.1 316.4,334.2" fill="none" stroke="#000" stroke-width="1.5" stroke-linejoin="round"/>
<polyline points="441.4,250.8 440.0,249.1 451.0,248.2 460.1,245.5 471.1,244.6 479.3,245.5 480.2,240.0 482.0,240.6" fill="none" stroke="#000" stroke-width="1.5" stroke-linejoin="round"/>
<polyline points="479.3,245.5 479.3,256.5 477.5,267.4 474.7,278.4 476.6,285.7" fill="none" stroke="#000" stroke-width="1.5" stroke-linejoin="round"/>
<polyline points="438.2,253.1 440.0,257.4 447.3,260.1 452.8,267.4 463.8,268.3 474.7,269.3 477.5,267.4" fill="none" stroke="#000" stroke-width="1.5" stroke-linejoin="round"/>
<polyline points="452.8,267.4 450.1,278.4 447.3,287.5 443.7,294.9 440.0,298.5" fill="none" stroke="#000" stroke-width="1.5" stroke-linejoin="round"/>
<polyline points="489.4,310.4 489.4,305.8 496.7,309.5 500.3,315.9" fill="none" stroke="#000" stroke-width="1.5" stroke-linejoin="round"/>
<polyline points="522.1,300.0 520.5,300.3 513.1,308.6 505.8,313.1 500.3,315.9" fill="none" stroke="#000" stroke-width="1.5" stroke-linejoin="round"/>
<polyline points="489.4,310.4 483.9,315.0 476.6,318.6 473.8,325.9 475.7,335.1" fill="none" stroke="#000" stroke-width="1.5" stroke-linejoin="round"/>
<polyline points="512.2,335.1 514.1,325.9 511.3,318.6 505.8,313.1" fill="none" stroke="#000" stroke-width="1.5" stroke-linejoin="round"/>
<polyline points="456.5,300.3 458.3,311.3 457.4,318.6 465.6,320.5 473.8,325.9" fill="none" stroke="#000" stroke-width="1.5" stroke-linejoin="round"/>
<polyline points="440.0,298.5 447.3,298.5 456.5,300.3" fill="none" stroke="#000" stroke-width="1.5" stroke-linejoin="round"/>
<polyline points="476.6,285.7 469.3,293.0 461.9,298.5 456.5,300.3" fill="none" stroke="#000" stroke-width="1.5" stroke-linejoin="round"/>
<polyline points="475.7,335.1 467.4,327.8 460.1,325.9 451.0,327.8 443.7,331.4 440.0,333.3" fill="none" stroke="#000" stroke-width="1.5" stroke-linejoin="round"/>
<polyline points="313.0,338.3 311.3,335.0 312.6,345.0 311.3,360.0 311.3,377.7 310.0,394.0 309.5,399.0" fill="none" stroke="#000" stroke-width="1.5" stroke-linejoin="round"/>
<polyline points="354.6,331.7 354.0,335.0 356.6,347.6 360.3,362.7 364.0,377.7 366.6,392.8 366.8,396.5" fill="none" stroke="#000" stroke-width="1.5" stroke-linejoin="round"/>
<polyline points="367.3,332.3 367.9,335.0 366.6,345.0 370.4,355.0 380.5,358.9 393.0,358.9 401.8,357.6 403.0,345.0 403.0,335.0" fill="none" stroke="#000" stroke-width="1.5" stroke-linejoin="round"/>
<polyline points="401.8,357.6 401.8,372.7 403.0,382.8 399.3,390.3 396.8,397.5" fill="none" stroke="#000" stroke-width="1.5" stroke-linejoin="round"/>
<polyline points="401.8,372.7 413.0,375.2 425.7,376.5 434.5,381.5 430.7,391.6 425.7,401.0 426.6,402.0" fill="none" stroke="#000" stroke-width="1.5" stroke-linejoin="round"/>
<polyline points="434.5,381.5 440.8,372.7 450.9,365.2 460.9,360.1 466.0,356.4" fill="none" stroke="#000" stroke-width="1.5" stroke-linejoin="round"/>
<polyline points="440.0,333.3 438.3,335.0 440.8,345.0 450.9,352.6 460.9,360.1" fill="none" stroke="#000" stroke-width="1.5" stroke-linejoin="round"/>
<polyline points="466.0,356.4 472.2,345.0 473.5,335.0 474.4,334.0" fill="none" stroke="#000" stroke-width="1.5" stroke-linejoin="round"/>
<polyline points="466.0,356.4 476.0,362.7 479.8,370.2 491.0,372.7 501.2,374.0 506.2,367.7 506.2,357.6 513.7,352.6 520.0,351.3" fill="none" stroke="#000" stroke-width="1.5" stroke-linejoin="round"/>
<polyline points="491.0,372.7 486.0,380.3 479.8,385.3 477.3,397.9 478.5,406.0" fill="none" stroke="#000" stroke-width="1.5" stroke-linejoin="round"/>
<polyline points="474.3,326.0 475.7,335.1 485.7,338.7 498.5,337.8 507.7,339.7 512.2,335.1 514.0,326.0" fill="none" stroke="#000" stroke-width="1.5" stroke-linejoin="round"/>
<polyline points="512.2,335.1 518.6,338.7 521.8,336.8" fill="none" stroke="#000" stroke-width="1.5" stroke-linejoin="round"/>
<polyline points="475.7,335.1 467.4,327.8" fill="none" stroke="#000" stroke-width="1.5" stroke-linejoin="round"/>
<polyline points="566.3,306.9 568.6,298.9 566.3,306.9 568.6,313.7 572.0,322.9 573.1,332.0 574.3,343.4 573.1,352.6" fill="none" stroke="#000" stroke-width="1.5" stroke-linejoin="round"/>
<polyline points="544.3,298.2 548.0,298.9 549.1,309.1 545.7,320.6 542.3,329.7 540.0,338.9 534.3,346.9 530.9,349.1" fill="none" stroke="#000" stroke-width="1.5" stroke-linejoin="round"/>
<polyline points="549.1,309.1 557.1,306.9 566.3,306.9" fill="none" stroke="#000" stroke-width="1.5" stroke-linejoin="round"/>
<polyline points="521.8,336.8 520.1,333.8 526.3,344.6 530.9,349.1" fill="none" stroke="#000" stroke-width="1.5" stroke-linejoin="round"/>
<polyline points="530.9,349.1 522.9,351.4 513.7,353.7 506.9,354.9 507.9,356.5" fill="none" stroke="#000" stroke-width="1.5" stroke-linejoin="round"/>
<polyline points="530.9,349.1 537.7,351.4 543.4,354.9 545.7,360.6 552.6,366.3 561.7,369.7 568.6,373.1 575.4,376.6 584.6,378.9 593.7,381.1 600.6,384.6" fill="none" stroke="#000" stroke-width="1.5" stroke-linejoin="round"/>
<polyline points="530.9,349.1 525.1,358.3 520.6,366.3 518.3,375.4 517.1,380.0" fill="none" stroke="#000" stroke-width="1.5" stroke-linejoin="round"/>
<polyline points="517.1,380.0 525.1,376.6 532.0,378.9 534.3,385.7 538.9,390.3 540.0,396.0 534.3,402.9 535.4,404.1" fill="none" stroke="#000" stroke-width="1.5" stroke-linejoin="round"/>
<polyline points="517.1,380.0 521.7,389.1 524.0,398.3 529.7,404.0" fill="none" stroke="#000" stroke-width="1.5" stroke-linejoin="round"/>
<polyline points="573.1,352.6 564.0,356.0 554.9,357.1 545.7,360.6" fill="none" stroke="#000" stroke-width="1.5" stroke-linejoin="round"/>
<polyline points="573.1,352.6 580.0,345.7 586.9,343.4 593.7,344.6 600.6,349.1 602.9,354.9 609.7,358.3 616.6,361.7 618.9,367.4 618.3,365.9" fill="none" stroke="#000" stroke-width="1.5" stroke-linejoin="round"/>
<polyline points="609.7,298.9 600.6,298.9 596.0,309.1 586.9,318.3 578.9,327.4 575.4,336.6 574.3,343.4" fill="none" stroke="#000" stroke-width="1.5" stroke-linejoin="round"/>
<polyline points="609.7,313.7 602.9,320.6 598.3,329.7 597.1,338.9 593.7,344.6" fill="none" stroke="#000" stroke-width="1.5" stroke-linejoin="round"/>
<polyline points="609.7,313.7 618.9,316.0 628.0,318.3 637.1,321.7 641.7,322.9 640.6,322.2" fill="none" stroke="#000" stroke-width="1.5" stroke-linejoin="round"/>
<polyline points="609.7,298.9 609.7,313.7" fill="none" stroke="#000" stroke-width="1.5" stroke-linejoin="round"/>
<polyline points="552.6,366.3 554.9,373.1 559.4,380.0 566.3,384.6 568.6,391.4 575.4,394.9 576.2,396.8" fill="none" stroke="#000" stroke-width="1.5" stroke-linejoin="round"/>
<polyline points="485.4,219.2 483.7,221.0 482.7,228.3 483.7,235.6 481.8,241.1 480.9,255.7 479.3,255.7" fill="none" stroke="#000" stroke-width="1.5" stroke-linejoin="round"/>
<polyline points="504.7,225.0 502.9,226.5 507.4,230.1 504.7,237.4 501.0,246.6 500.1,255.7 501.0,264.9 501.9,274.0 501.0,283.1 501.6,285.1" fill="none" stroke="#000" stroke-width="1.5" stroke-linejoin="round"/>
<polyline points="513.9,227.5 512.9,228.3 514.7,237.4 512.9,244.7 515.7,253.9 516.6,263.0 518.4,272.2 521.1,278.6" fill="none" stroke="#000" stroke-width="1.5" stroke-linejoin="round"/>
<polyline points="534.9,224.6 538.5,231.9 544.0,237.4 549.5,242.0 551.3,246.6 544.0,249.3 538.5,253.0 536.7,261.2 535.8,270.3 537.6,277.7" fill="none" stroke="#000" stroke-width="1.5" stroke-linejoin="round"/>
<polyline points="551.3,246.6 556.8,255.7 562.3,264.9 567.8,274.0 571.4,283.1 575.1,288.6" fill="none" stroke="#000" stroke-width="1.5" stroke-linejoin="round"/>
<polyline points="537.6,277.7 545.8,277.7 556.8,279.5 567.8,283.1 575.1,288.6 582.4,292.3 589.7,294.1 584.5,294.8" fill="none" stroke="#000" stroke-width="1.5" stroke-linejoin="round"/>
<polyline points="553.1,222.8 555.0,228.3 562.3,230.1 571.4,231.9 575.1,239.3 576.9,246.6 576.0,255.7 578.7,264.9 579.7,274.0 582.4,283.1 584.2,292.3 585.1,299.6 584.5,294.8" fill="none" stroke="#000" stroke-width="1.5" stroke-linejoin="round"/>
<polyline points="575.1,239.3 582.4,241.1 589.7,242.9 597.0,245.7 604.3,242.0 608.0,235.6" fill="none" stroke="#000" stroke-width="1.5" stroke-linejoin="round"/>
<polyline points="597.0,245.7 593.4,255.7 594.3,266.7 595.2,275.8 598.9,283.1 606.2,288.6 611.7,290.5" fill="none" stroke="#000" stroke-width="1.5" stroke-linejoin="round"/>
<polyline points="611.7,290.5 619.0,285.0 626.3,283.1 635.4,282.2 640.0,281.3" fill="none" stroke="#000" stroke-width="1.5" stroke-linejoin="round"/>
<polyline points="635.4,246.6 631.8,255.7 633.6,264.9 631.8,274.0 635.4,282.2" fill="none" stroke="#000" stroke-width="1.5" stroke-linejoin="round"/>
<polyline points="521.1,278.6 527.5,279.5 537.6,277.7" fill="none" stroke="#000" stroke-width="1.5" stroke-linejoin="round"/>
<polyline points="476.6,285.7 480.0,286.8 489.1,288.6 501.9,285.0 512.9,281.3 521.1,278.6" fill="none" stroke="#000" stroke-width="1.5" stroke-linejoin="round"/>
<polyline points="523.9,279.5 523.0,288.6 522.1,300.0" fill="none" stroke="#000" stroke-width="1.5" stroke-linejoin="round"/>
<polyline points="538.5,278.6 542.2,285.0 545.8,290.5 544.0,300.0 544.3,298.2" fill="none" stroke="#000" stroke-width="1.5" stroke-linejoin="round"/>
<polyline points="296.6,346.6 299.3,342.0 309.4,340.2 314.8,337.4 318.5,330.1 319.8,328.4" fill="none" stroke="#000" stroke-width="1.5" stroke-linejoin="round"/>
<polygon points="373.0,424.1 372.5,426.0 369.7,428.9 366.4,431.1 364.4,431.3 364.9,429.4 367.7,426.5 371.0,424.3" fill="#fff" stroke="#000" stroke-width="1.2"/>
<polygon points="392.3,415.2 392.1,416.3 391.5,416.8 390.9,416.3 390.7,415.2 390.9,414.1 391.5,413.6 392.1,414.1" fill="#fff" stroke="#000" stroke-width="1.2"/>
<polygon points="416.7,417.2 416.4,417.6 415.8,417.8 415.2,417.6 414.9,417.2 415.2,416.8 415.8,416.6 416.4,416.8" fill="#fff" stroke="#000" stroke-width="1.2"/>
<polygon points="423.0,415.7 422.7,416.1 422.1,416.3 421.5,416.1 421.2,415.7 421.5,415.3 422.1,415.1 422.7,415.3" fill="#fff" stroke="#000" stroke-width="1.2"/>
<polygon points="428.1,415.2 427.8,415.6 427.2,415.8 426.6,415.6 426.3,415.2 426.6,414.8 427.2,414.6 427.8,414.8" fill="#fff" stroke="#000" stroke-width="1.2"/>
<polygon points="438.9,415.2 438.6,415.6 438.0,415.8 437.4,415.6 437.1,415.2 437.4,414.8 438.0,414.6 438.6,414.8" fill="#fff" stroke="#000" stroke-width="1.2"/>
<polygon points="291.0,399.6 290.7,400.2 290.0,400.4 289.3,400.2 289.0,399.6 289.3,399.0 290.0,398.8 290.7,399.0" fill="#fff" stroke="#000" stroke-width="1.2"/>
<polygon points="295.9,397.6 295.6,398.1 295.0,398.3 294.4,398.1 294.1,397.6 294.4,397.1 295.0,396.9 295.6,397.1" fill="#fff" stroke="#000" stroke-width="1.2"/>
<polygon points="314.8,405.6 314.6,406.0 314.0,406.2 313.4,406.0 313.2,405.6 313.4,405.2 314.0,405.0 314.6,405.2" fill="#fff" stroke="#000" stroke-width="1.2"/>
<polygon points="330.8,403.9 330.6,404.3 330.0,404.5 329.4,404.3 329.2,403.9 329.4,403.5 330.0,403.3 330.6,403.5" fill="#fff" stroke="#000" stroke-width="1.2"/>
<polygon points="469.8,418.7 467.6,419.0 462.7,418.2 458.0,416.6 456.2,415.3 458.4,415.0 463.3,415.8 468.0,417.4" fill="#fff" stroke="#000" stroke-width="1.2"/>
<polygon points="483.9,409.8 482.1,410.5 477.8,410.3 473.7,409.3 472.1,408.2 473.9,407.5 478.2,407.7 482.3,408.7" fill="#fff" stroke="#000" stroke-width="1.2"/>
<polygon points="453.9,412.7 453.1,413.1 451.7,412.9 450.4,412.2 450.1,411.3 450.9,410.9 452.3,411.1 453.6,411.8" fill="#fff" stroke="#000" stroke-width="1.2"/>
<polygon points="684.0,243.4 683.7,244.0 683.1,244.3 682.5,244.0 682.2,243.4 682.5,242.8 683.1,242.5 683.7,242.8" fill="#fff" stroke="#000" stroke-width="1.2"/>
<polygon points="693.2,246.8 693.3,248.7 692.2,249.9 690.6,249.7 689.4,248.2 689.3,246.3 690.4,245.1 692.0,245.3" fill="#fff" stroke="#000" stroke-width="1.2"/>
<polygon points="681.3,265.8 681.0,266.6 680.3,267.0 679.6,266.6 679.3,265.8 679.6,265.0 680.3,264.6 681.0,265.0" fill="#fff" stroke="#000" stroke-width="1.2"/>
<polygon points="684.3,275.0 684.0,275.6 683.4,275.9 682.8,275.6 682.5,275.0 682.8,274.4 683.4,274.1 684.0,274.4" fill="#fff" stroke="#000" stroke-width="1.2"/>
<polygon points="692.8,297.8 692.1,298.8 690.5,299.2 688.9,298.8 688.2,297.8 688.9,296.8 690.5,296.4 692.1,296.8" fill="#fff" stroke="#000" stroke-width="1.2"/>
<polygon points="642.5,332.0 642.2,332.8 641.4,333.1 640.6,332.8 640.3,332.0 640.6,331.2 641.4,330.9 642.2,331.2" fill="#fff" stroke="#000" stroke-width="1.2"/>
<polygon points="213.8,418.5 213.6,419.1 213.0,419.3 212.4,419.1 212.2,418.5 212.4,417.9 213.0,417.7 213.6,417.9" fill="#fff" stroke="#000" stroke-width="1.2"/>
<polygon points="189.8,404.5 189.6,405.1 189.0,405.3 188.4,405.1 188.2,404.5 188.4,403.9 189.0,403.7 189.6,403.9" fill="#fff" stroke="#000" stroke-width="1.2"/>
<rect x="99.5" y="171.5" width="593.0" height="290.0" fill="none" stroke="#262626" stroke-width="1"/>
<path d="M134.5 461.5v-5.5M134.5 171.5v5.5" stroke="#262626" stroke-width="1"/>
<path d="M203.5 461.5v-5.5M203.5 171.5v5.5" stroke="#262626" stroke-width="1"/>
<path d="M273.5 461.5v-5.5M273.5 171.5v5.5" stroke="#262626" stroke-width="1"/>
<path d="M342.5 461.5v-5.5M342.5 171.5v5.5" stroke="#262626" stroke-width="1"/>
<path d="M411.5 461.5v-5.5M411.5 171.5v5.5" stroke="#262626" stroke-width="1"/>
<path d="M480.5 461.5v-5.5M480.5 171.5v5.5" stroke="#262626" stroke-width="1"/>
<path d="M549.5 461.5v-5.5M549.5 171.5v5.5" stroke="#262626" stroke-width="1"/>
<path d="M618.5 461.5v-5.5M618.5 171.5v5.5" stroke="#262626" stroke-width="1"/>
<path d="M687.5 461.5v-5.5M687.5 171.5v5.5" stroke="#262626" stroke-width="1"/>
<path d="M99.5 171.5h5.5M692.5 171.5h-5.5" stroke="#262626" stroke-width="1"/>
<path d="M99.5 243.5h5.5M692.5 243.5h-5.5" stroke="#262626" stroke-width="1"/>
<path d="M99.5 316.5h5.5M692.5 316.5h-5.5" stroke="#262626" stroke-width="1"/>
<path d="M99.5 388.5h5.5M692.5 388.5h-5.5" stroke="#262626" stroke-width="1"/>
<path d="M99.5 461.5h5.5M692.5 461.5h-5.5" stroke="#262626" stroke-width="1"/>
<text x="134.8" y="490.8" font-size="20" text-anchor="middle" fill="#262626">-67.2</text>
<text x="203.9" y="490.8" font-size="20" text-anchor="middle" fill="#262626">-67</text>
<text x="273.1" y="490.8" font-size="20" text-anchor="middle" fill="#262626">-66.8</text>
<text x="342.2" y="490.8" font-size="20" text-anchor="middle" fill="#262626">-66.6</text>
<text x="411.3" y="490.8" font-size="20" text-anchor="middle" fill="#262626">-66.4</text>
<text x="480.4" y="490.8" font-size="20" text-anchor="middle" fill="#262626">-66.2</text>
<text x="549.6" y="490.8" font-size="20" text-anchor="middle" fill="#262626">-66</text>
<text x="618.7" y="490.8" font-size="20" text-anchor="middle" fill="#262626">-65.8</text>
<text x="687.8" y="490.8" font-size="20" text-anchor="middle" fill="#262626">-65.6</text>
<text x="91" y="178.7" font-size="20" text-anchor="end" fill="#262626">18.6</text>
<text x="91" y="251.1" font-size="20" text-anchor="end" fill="#262626">18.4</text>
<text x="91" y="323.6" font-size="20" text-anchor="end" fill="#262626">18.2</text>
<text x="91" y="396.0" font-size="20" text-anchor="end" fill="#262626">18</text>
<text x="91" y="468.5" font-size="20" text-anchor="end" fill="#262626">17.8</text>
<text x="396.5" y="521.5" font-size="22.6" text-anchor="middle" fill="#262626">Longitude</text>
<text transform="translate(37.7 316.5) rotate(-90)" font-size="22.6" text-anchor="middle" fill="#262626">Latitude</text>
<text x="396.5" y="161.6" font-size="22.85" font-weight="bold" text-anchor="middle" fill="#000">SENSIBLE HEAT FLUX (MJ/m2/day) 08-Dec-2025</text>
<rect x="728.5" y="170.5" width="32" height="291" fill="url(#cbg)" stroke="#262626" stroke-width="1" stroke-opacity="0.75"/>
<path d="M760.5 441.5h-3" stroke="#262626" stroke-width="1"/>
<text x="768.5" y="448.8" font-size="20" fill="#262626">4</text>
<path d="M760.5 391.5h-3" stroke="#262626" stroke-width="1"/>
<text x="768.5" y="398.8" font-size="20" fill="#262626">6</text>
<path d="M760.5 341.5h-3" stroke="#262626" stroke-width="1"/>
<text x="768.5" y="348.8" font-size="20" fill="#262626">8</text>
<path d="M760.5 291.5h-3" stroke="#262626" stroke-width="1"/>
<text x="768.5" y="298.8" font-size="20" fill="#262626">10</text>
<path d="M760.5 241.5h-3" stroke="#262626" stroke-width="1"/>
<text x="768.5" y="248.8" font-size="20" fill="#262626">12</text>
<path d="M760.5 191.5h-3" stroke="#262626" stroke-width="1"/>
<text x="768.5" y="198.8" font-size="20" fill="#262626">14</text>
</svg>
</body></html>
